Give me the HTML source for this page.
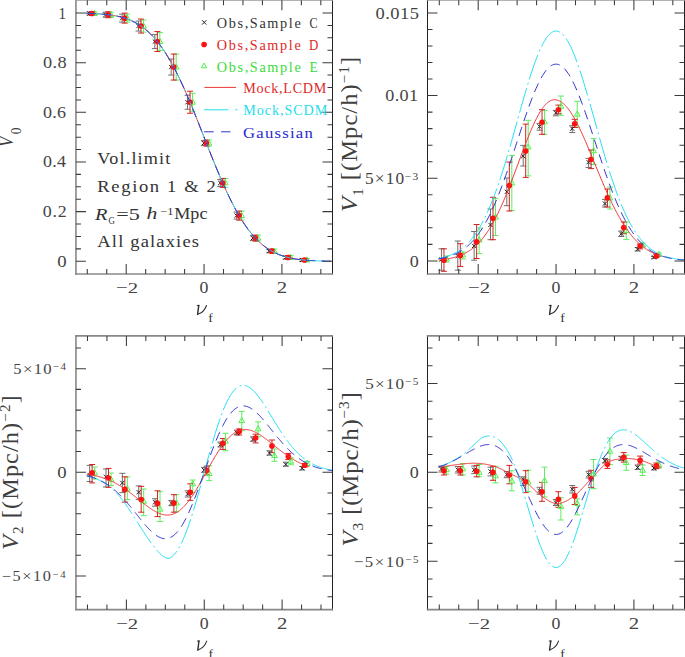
<!DOCTYPE html>
<html><head><meta charset="utf-8"><style>
html,body{margin:0;padding:0;background:#fff;}
svg{display:block;}
text{font-family:"Liberation Serif",serif;}
</style></head><body>
<svg width="685" height="657" viewBox="0 0 685 657">
<rect width="685" height="657" fill="#fff"/>
<path d="M89.45 11.99V14.99M86.45 11.99h6.0M86.45 14.99h6.0" stroke="#707070" stroke-width="1.0" fill="none"/>
<path d="M94.45 11.99V14.99M91.45 11.99h6.0M91.45 14.99h6.0" stroke="#60ec60" stroke-width="1.0" fill="none"/>
<path d="M91.95 11.49V15.49M88.95 11.49h6.0M88.95 15.49h6.0" stroke="#d82020" stroke-width="1.0" fill="none"/>
<path d="M105.80 12.22V17.22M102.80 12.22h6.0M102.80 17.22h6.0" stroke="#707070" stroke-width="1.0" fill="none"/>
<path d="M110.80 12.22V17.22M107.80 12.22h6.0M107.80 17.22h6.0" stroke="#60ec60" stroke-width="1.0" fill="none"/>
<path d="M108.30 11.72V17.72M105.30 11.72h6.0M105.30 17.72h6.0" stroke="#d82020" stroke-width="1.0" fill="none"/>
<path d="M122.14 14.13V22.13M119.14 14.13h6.0M119.14 22.13h6.0" stroke="#707070" stroke-width="1.0" fill="none"/>
<path d="M127.14 14.13V22.13M124.14 14.13h6.0M124.14 22.13h6.0" stroke="#60ec60" stroke-width="1.0" fill="none"/>
<path d="M124.64 13.13V23.13M121.64 13.13h6.0M121.64 23.13h6.0" stroke="#d82020" stroke-width="1.0" fill="none"/>
<path d="M138.49 21.06V31.06M135.49 21.06h6.0M135.49 31.06h6.0" stroke="#707070" stroke-width="1.0" fill="none"/>
<path d="M143.49 20.06V32.06M140.49 20.06h6.0M140.49 32.06h6.0" stroke="#60ec60" stroke-width="1.0" fill="none"/>
<path d="M140.99 19.06V33.06M137.99 19.06h6.0M137.99 33.06h6.0" stroke="#d82020" stroke-width="1.0" fill="none"/>
<path d="M154.84 34.57V48.57M151.84 34.57h6.0M151.84 48.57h6.0" stroke="#707070" stroke-width="1.0" fill="none"/>
<path d="M159.84 32.57V50.57M156.84 32.57h6.0M156.84 50.57h6.0" stroke="#60ec60" stroke-width="1.0" fill="none"/>
<path d="M157.34 31.57V51.57M154.34 31.57h6.0M154.34 51.57h6.0" stroke="#d82020" stroke-width="1.0" fill="none"/>
<path d="M171.19 59.05V75.05M168.19 59.05h6.0M168.19 75.05h6.0" stroke="#707070" stroke-width="1.0" fill="none"/>
<path d="M176.19 54.05V80.05M173.19 54.05h6.0M173.19 80.05h6.0" stroke="#60ec60" stroke-width="1.0" fill="none"/>
<path d="M173.69 54.05V80.05M170.69 54.05h6.0M170.69 80.05h6.0" stroke="#d82020" stroke-width="1.0" fill="none"/>
<path d="M187.54 95.24V109.24M184.54 95.24h6.0M184.54 109.24h6.0" stroke="#707070" stroke-width="1.0" fill="none"/>
<path d="M192.54 93.24V111.24M189.54 93.24h6.0M189.54 111.24h6.0" stroke="#60ec60" stroke-width="1.0" fill="none"/>
<path d="M190.04 91.24V113.24M187.04 91.24h6.0M187.04 113.24h6.0" stroke="#d82020" stroke-width="1.0" fill="none"/>
<path d="M203.89 140.59V145.59M200.89 140.59h6.0M200.89 145.59h6.0" stroke="#707070" stroke-width="1.0" fill="none"/>
<path d="M208.89 140.09V146.09M205.89 140.09h6.0M205.89 146.09h6.0" stroke="#60ec60" stroke-width="1.0" fill="none"/>
<path d="M206.39 140.09V146.09M203.39 140.09h6.0M203.39 146.09h6.0" stroke="#d82020" stroke-width="1.0" fill="none"/>
<path d="M220.23 179.43V186.43M217.23 179.43h6.0M217.23 186.43h6.0" stroke="#707070" stroke-width="1.0" fill="none"/>
<path d="M225.23 178.43V187.43M222.23 178.43h6.0M222.23 187.43h6.0" stroke="#60ec60" stroke-width="1.0" fill="none"/>
<path d="M222.73 178.43V187.43M219.73 178.43h6.0M219.73 187.43h6.0" stroke="#d82020" stroke-width="1.0" fill="none"/>
<path d="M236.58 212.10V219.10M233.58 212.10h6.0M233.58 219.10h6.0" stroke="#707070" stroke-width="1.0" fill="none"/>
<path d="M241.58 211.10V220.10M238.58 211.10h6.0M238.58 220.10h6.0" stroke="#60ec60" stroke-width="1.0" fill="none"/>
<path d="M239.08 211.10V220.10M236.08 211.10h6.0M236.08 220.10h6.0" stroke="#d82020" stroke-width="1.0" fill="none"/>
<path d="M252.93 235.60V240.60M249.93 235.60h6.0M249.93 240.60h6.0" stroke="#707070" stroke-width="1.0" fill="none"/>
<path d="M257.93 235.10V241.10M254.93 235.10h6.0M254.93 241.10h6.0" stroke="#60ec60" stroke-width="1.0" fill="none"/>
<path d="M255.43 235.10V241.10M252.43 235.10h6.0M252.43 241.10h6.0" stroke="#d82020" stroke-width="1.0" fill="none"/>
<path d="M269.28 249.64V252.64M266.28 249.64h6.0M266.28 252.64h6.0" stroke="#707070" stroke-width="1.0" fill="none"/>
<path d="M274.28 249.14V253.14M271.28 249.14h6.0M271.28 253.14h6.0" stroke="#60ec60" stroke-width="1.0" fill="none"/>
<path d="M271.78 249.14V253.14M268.78 249.14h6.0M268.78 253.14h6.0" stroke="#d82020" stroke-width="1.0" fill="none"/>
<path d="M285.63 255.98V258.98M282.63 255.98h6.0M282.63 258.98h6.0" stroke="#707070" stroke-width="1.0" fill="none"/>
<path d="M290.63 255.48V259.48M287.63 255.48h6.0M287.63 259.48h6.0" stroke="#60ec60" stroke-width="1.0" fill="none"/>
<path d="M288.13 255.48V259.48M285.13 255.48h6.0M285.13 259.48h6.0" stroke="#d82020" stroke-width="1.0" fill="none"/>
<path d="M301.97 258.87V261.27M298.97 258.87h6.0M298.97 261.27h6.0" stroke="#707070" stroke-width="1.0" fill="none"/>
<path d="M306.97 258.57V261.57M303.97 258.57h6.0M303.97 261.57h6.0" stroke="#60ec60" stroke-width="1.0" fill="none"/>
<path d="M304.47 258.57V261.57M301.47 258.57h6.0M301.47 261.57h6.0" stroke="#d82020" stroke-width="1.0" fill="none"/>
<path d="M94.45 10.29L97.33 15.41L91.57 15.41Z" stroke="#50f050" stroke-width="1" fill="none"/>
<path d="M87.35 11.39l4.2 4.2M87.35 15.59l4.2 -4.2" stroke="#222" stroke-width="1" fill="none"/>
<circle cx="91.95" cy="13.49" r="2.8" fill="#ff1010"/>
<path d="M110.80 11.52L113.68 16.64L107.92 16.64Z" stroke="#50f050" stroke-width="1" fill="none"/>
<path d="M103.70 12.62l4.2 4.2M103.70 16.82l4.2 -4.2" stroke="#222" stroke-width="1" fill="none"/>
<circle cx="108.30" cy="14.72" r="2.8" fill="#ff1010"/>
<path d="M127.14 14.93L130.02 20.05L124.26 20.05Z" stroke="#50f050" stroke-width="1" fill="none"/>
<path d="M120.04 16.03l4.2 4.2M120.04 20.23l4.2 -4.2" stroke="#222" stroke-width="1" fill="none"/>
<circle cx="124.64" cy="18.13" r="2.8" fill="#ff1010"/>
<path d="M143.49 22.86L146.37 27.98L140.61 27.98Z" stroke="#50f050" stroke-width="1" fill="none"/>
<path d="M136.39 23.96l4.2 4.2M136.39 28.16l4.2 -4.2" stroke="#222" stroke-width="1" fill="none"/>
<circle cx="140.99" cy="26.06" r="2.8" fill="#ff1010"/>
<path d="M159.84 38.37L162.72 43.49L156.96 43.49Z" stroke="#50f050" stroke-width="1" fill="none"/>
<path d="M152.74 39.47l4.2 4.2M152.74 43.67l4.2 -4.2" stroke="#222" stroke-width="1" fill="none"/>
<circle cx="157.34" cy="41.57" r="2.8" fill="#ff1010"/>
<path d="M176.19 63.85L179.07 68.97L173.31 68.97Z" stroke="#50f050" stroke-width="1" fill="none"/>
<path d="M169.09 64.95l4.2 4.2M169.09 69.15l4.2 -4.2" stroke="#222" stroke-width="1" fill="none"/>
<circle cx="173.69" cy="67.05" r="2.8" fill="#ff1010"/>
<path d="M192.54 99.04L195.42 104.16L189.66 104.16Z" stroke="#50f050" stroke-width="1" fill="none"/>
<path d="M185.44 100.14l4.2 4.2M185.44 104.34l4.2 -4.2" stroke="#222" stroke-width="1" fill="none"/>
<circle cx="190.04" cy="102.24" r="2.8" fill="#ff1010"/>
<path d="M208.89 139.89L211.77 145.01L206.01 145.01Z" stroke="#50f050" stroke-width="1" fill="none"/>
<path d="M201.79 140.99l4.2 4.2M201.79 145.19l4.2 -4.2" stroke="#222" stroke-width="1" fill="none"/>
<circle cx="206.39" cy="143.09" r="2.8" fill="#ff1010"/>
<path d="M225.23 179.73L228.11 184.85L222.35 184.85Z" stroke="#50f050" stroke-width="1" fill="none"/>
<path d="M218.13 180.83l4.2 4.2M218.13 185.03l4.2 -4.2" stroke="#222" stroke-width="1" fill="none"/>
<circle cx="222.73" cy="182.93" r="2.8" fill="#ff1010"/>
<path d="M241.58 212.40L244.46 217.52L238.70 217.52Z" stroke="#50f050" stroke-width="1" fill="none"/>
<path d="M234.48 213.50l4.2 4.2M234.48 217.70l4.2 -4.2" stroke="#222" stroke-width="1" fill="none"/>
<circle cx="239.08" cy="215.60" r="2.8" fill="#ff1010"/>
<path d="M257.93 234.90L260.81 240.02L255.05 240.02Z" stroke="#50f050" stroke-width="1" fill="none"/>
<path d="M250.83 236.00l4.2 4.2M250.83 240.20l4.2 -4.2" stroke="#222" stroke-width="1" fill="none"/>
<circle cx="255.43" cy="238.10" r="2.8" fill="#ff1010"/>
<path d="M274.28 247.94L277.16 253.06L271.40 253.06Z" stroke="#50f050" stroke-width="1" fill="none"/>
<path d="M267.18 249.04l4.2 4.2M267.18 253.24l4.2 -4.2" stroke="#222" stroke-width="1" fill="none"/>
<circle cx="271.78" cy="251.14" r="2.8" fill="#ff1010"/>
<path d="M290.63 254.28L293.51 259.40L287.75 259.40Z" stroke="#50f050" stroke-width="1" fill="none"/>
<path d="M283.53 255.38l4.2 4.2M283.53 259.58l4.2 -4.2" stroke="#222" stroke-width="1" fill="none"/>
<circle cx="288.13" cy="257.48" r="2.8" fill="#ff1010"/>
<path d="M306.97 256.87L309.85 261.99L304.09 261.99Z" stroke="#50f050" stroke-width="1" fill="none"/>
<path d="M299.87 257.97l4.2 4.2M299.87 262.17l4.2 -4.2" stroke="#222" stroke-width="1" fill="none"/>
<circle cx="304.47" cy="260.07" r="2.8" fill="#ff1010"/>
<polyline points="86.50,13.31 87.24,13.33 87.98,13.36 88.73,13.38 89.47,13.40 90.21,13.43 90.95,13.46 91.69,13.48 92.44,13.51 93.18,13.55 93.92,13.58 94.66,13.61 95.40,13.65 96.15,13.69 96.89,13.73 97.63,13.78 98.37,13.82 99.12,13.87 99.86,13.92 100.60,13.98 101.34,14.03 102.08,14.09 102.83,14.16 103.57,14.22 104.31,14.29 105.05,14.36 105.79,14.44 106.54,14.52 107.28,14.60 108.02,14.69 108.76,14.78 109.51,14.88 110.25,14.98 110.99,15.09 111.73,15.20 112.47,15.31 113.22,15.44 113.96,15.56 114.70,15.69 115.44,15.83 116.19,15.98 116.93,16.13 117.67,16.29 118.41,16.45 119.15,16.62 119.90,16.80 120.64,16.99 121.38,17.18 122.12,17.38 122.86,17.59 123.61,17.81 124.35,18.04 125.09,18.28 125.83,18.52 126.58,18.78 127.32,19.04 128.06,19.32 128.80,19.61 129.54,19.90 130.29,20.21 131.03,20.53 131.77,20.86 132.51,21.20 133.25,21.56 134.00,21.93 134.74,22.31 135.48,22.70 136.22,23.11 136.97,23.53 137.71,23.96 138.45,24.41 139.19,24.88 139.93,25.36 140.68,25.85 141.42,26.36 142.16,26.88 142.90,27.43 143.64,27.98 144.39,28.56 145.13,29.15 145.87,29.76 146.61,30.39 147.36,31.03 148.10,31.70 148.84,32.38 149.58,33.08 150.32,33.80 151.07,34.53 151.81,35.29 152.55,36.07 153.29,36.87 154.03,37.68 154.78,38.52 155.52,39.38 156.26,40.26 157.00,41.16 157.75,42.08 158.49,43.02 159.23,43.98 159.97,44.96 160.71,45.97 161.46,47.00 162.20,48.05 162.94,49.12 163.68,50.21 164.43,51.32 165.17,52.46 165.91,53.62 166.65,54.80 167.39,56.00 168.14,57.22 168.88,58.46 169.62,59.73 170.36,61.02 171.10,62.33 171.85,63.66 172.59,65.01 173.33,66.38 174.07,67.78 174.82,69.19 175.56,70.63 176.30,72.08 177.04,73.56 177.78,75.05 178.53,76.56 179.27,78.10 180.01,79.65 180.75,81.22 181.49,82.81 182.24,84.41 182.98,86.03 183.72,87.67 184.46,89.33 185.21,91.00 185.95,92.69 186.69,94.39 187.43,96.11 188.17,97.84 188.92,99.59 189.66,101.34 190.40,103.11 191.14,104.89 191.88,106.69 192.63,108.49 193.37,110.31 194.11,112.13 194.85,113.96 195.60,115.80 196.34,117.65 197.08,119.51 197.82,121.37 198.56,123.24 199.31,125.11 200.05,126.98 200.79,128.87 201.53,130.75 202.28,132.63 203.02,134.52 203.76,136.41 204.50,138.30 205.24,140.19 205.99,142.07 206.73,143.96 207.47,145.84 208.21,147.72 208.95,149.60 209.70,151.47 210.44,153.34 211.18,155.20 211.92,157.05 212.67,158.90 213.41,160.74 214.15,162.57 214.89,164.39 215.63,166.20 216.38,168.00 217.12,169.79 217.86,171.57 218.60,173.34 219.34,175.09 220.09,176.84 220.83,178.56 221.57,180.28 222.31,181.98 223.06,183.66 223.80,185.33 224.54,186.98 225.28,188.62 226.02,190.24 226.77,191.84 227.51,193.42 228.25,194.99 228.99,196.54 229.73,198.07 230.48,199.58 231.22,201.07 231.96,202.54 232.70,203.99 233.45,205.42 234.19,206.83 234.93,208.22 235.67,209.58 236.41,210.93 237.16,212.26 237.90,213.56 238.64,214.85 239.38,216.11 240.12,217.35 240.87,218.57 241.61,219.76 242.35,220.94 243.09,222.09 243.84,223.22 244.58,224.33 245.32,225.42 246.06,226.48 246.80,227.53 247.55,228.55 248.29,229.55 249.03,230.53 249.77,231.49 250.52,232.42 251.26,233.34 252.00,234.24 252.74,235.11 253.48,235.96 254.23,236.80 254.97,237.61 255.71,238.40 256.45,239.17 257.19,239.93 257.94,240.66 258.68,241.38 259.42,242.07 260.16,242.75 260.91,243.41 261.65,244.05 262.39,244.67 263.13,245.28 263.87,245.87 264.62,246.44 265.36,246.99 266.10,247.53 266.84,248.05 267.58,248.56 268.33,249.05 269.07,249.53 269.81,249.99 270.55,250.43 271.30,250.86 272.04,251.28 272.78,251.69 273.52,252.08 274.26,252.45 275.01,252.82 275.75,253.17 276.49,253.51 277.23,253.84 277.97,254.16 278.72,254.46 279.46,254.76 280.20,255.04 280.94,255.31 281.69,255.58 282.43,255.83 283.17,256.07 283.91,256.31 284.65,256.54 285.40,256.75 286.14,256.96 286.88,257.16 287.62,257.35 288.37,257.54 289.11,257.72 289.85,257.89 290.59,258.05 291.33,258.20 292.08,258.35 292.82,258.50 293.56,258.63 294.30,258.77 295.04,258.89 295.79,259.01 296.53,259.13 297.27,259.24 298.01,259.34 298.76,259.44 299.50,259.54 300.24,259.63 300.98,259.72 301.72,259.80 302.47,259.88 303.21,259.95 303.95,260.02 304.69,260.09 305.43,260.16 306.18,260.22 306.92,260.28 307.66,260.34 308.40,260.39 309.15,260.44" fill="none" stroke="#f03535" stroke-width="1.0"/>
<polyline points="86.50,13.31 87.32,13.34 88.14,13.36 88.96,13.39 89.78,13.41 90.60,13.44 91.42,13.47 92.24,13.51 93.06,13.54 93.88,13.58 94.70,13.62 95.52,13.66 96.34,13.70 97.16,13.75 97.98,13.80 98.80,13.85 99.62,13.91 100.44,13.96 101.26,14.03 102.08,14.09 102.90,14.16 103.72,14.24 104.54,14.31 105.36,14.39 106.18,14.48 107.00,14.57 107.82,14.67 108.64,14.77 109.46,14.87 110.28,14.99 111.10,15.10 111.92,15.23 112.74,15.36 113.56,15.49 114.38,15.64 115.20,15.79 116.02,15.95 116.84,16.11 117.66,16.28 118.48,16.47 119.30,16.66 120.12,16.86 120.94,17.07 121.76,17.28 122.58,17.51 123.40,17.75 124.22,18.00 125.04,18.26 125.86,18.53 126.68,18.82 127.50,19.11 128.32,19.42 129.14,19.74 129.96,20.07 130.78,20.42 131.60,20.78 132.42,21.16 133.24,21.55 134.06,21.96 134.88,22.38 135.70,22.82 136.52,23.27 137.34,23.75 138.16,24.23 138.98,24.74 139.80,25.27 140.62,25.81 141.44,26.37 142.26,26.96 143.08,27.56 143.90,28.18 144.72,28.82 145.54,29.49 146.36,30.17 147.18,30.88 148.00,31.61 148.82,32.36 149.64,33.13 150.46,33.93 151.28,34.75 152.10,35.59 152.92,36.46 153.74,37.35 154.56,38.27 155.38,39.21 156.20,40.18 157.02,41.18 157.84,42.19 158.66,43.24 159.48,44.31 160.30,45.40 161.12,46.53 161.94,47.68 162.76,48.85 163.58,50.05 164.40,51.28 165.22,52.54 166.04,53.82 166.86,55.13 167.68,56.46 168.50,57.83 169.32,59.21 170.14,60.63 170.96,62.07 171.78,63.54 172.60,65.03 173.42,66.55 174.24,68.09 175.06,69.66 175.88,71.25 176.70,72.87 177.52,74.52 178.34,76.18 179.16,77.87 179.98,79.58 180.80,81.32 181.62,83.07 182.44,84.85 183.26,86.65 184.08,88.47 184.90,90.31 185.72,92.17 186.54,94.05 187.36,95.94 188.18,97.85 189.00,99.78 189.82,101.73 190.64,103.68 191.46,105.66 192.28,107.65 193.10,109.65 193.92,111.66 194.74,113.68 195.56,115.71 196.38,117.75 197.20,119.81 198.02,121.86 198.84,123.93 199.66,126.00 200.48,128.08 201.30,130.16 202.12,132.24 202.94,134.32 203.76,136.41 204.58,138.50 205.40,140.58 206.22,142.67 207.04,144.75 207.86,146.83 208.68,148.90 209.50,150.97 210.32,153.04 211.14,155.09 211.96,157.14 212.78,159.18 213.60,161.21 214.42,163.23 215.24,165.24 216.06,167.23 216.88,169.22 217.70,171.19 218.52,173.14 219.34,175.08 220.16,177.01 220.98,178.91 221.80,180.80 222.62,182.67 223.44,184.53 224.26,186.36 225.08,188.17 225.90,189.97 226.72,191.74 227.54,193.49 228.36,195.22 229.18,196.92 230.00,198.61 230.82,200.27 231.64,201.90 232.46,203.51 233.28,205.10 234.10,206.66 234.92,208.20 235.74,209.71 236.56,211.19 237.38,212.65 238.20,214.09 239.02,215.49 239.84,216.87 240.66,218.23 241.48,219.55 242.30,220.86 243.12,222.13 243.94,223.38 244.76,224.60 245.58,225.79 246.40,226.96 247.22,228.10 248.04,229.22 248.86,230.31 249.68,231.37 250.50,232.41 251.32,233.42 252.14,234.40 252.96,235.36 253.78,236.30 254.60,237.21 255.42,238.09 256.24,238.95 257.06,239.79 257.88,240.61 258.70,241.40 259.52,242.16 260.34,242.91 261.16,243.63 261.98,244.33 262.80,245.01 263.62,245.67 264.44,246.30 265.26,246.92 266.08,247.52 266.90,248.09 267.72,248.65 268.54,249.19 269.36,249.71 270.18,250.21 271.00,250.69 271.82,251.16 272.64,251.61 273.46,252.04 274.28,252.46 275.10,252.86 275.92,253.25 276.74,253.62 277.56,253.98 278.38,254.32 279.20,254.65 280.02,254.97 280.84,255.28 281.66,255.57 282.48,255.85 283.30,256.12 284.12,256.37 284.94,256.62 285.76,256.86 286.58,257.08 287.40,257.30 288.22,257.50 289.04,257.70 289.86,257.89 290.68,258.07 291.50,258.24 292.32,258.40 293.14,258.56 293.96,258.71 294.78,258.85 295.60,258.98 296.42,259.11 297.24,259.23 298.06,259.35 298.88,259.46 299.70,259.56 300.52,259.66 301.34,259.76 302.16,259.85 302.98,259.93 303.80,260.01 304.62,260.09 305.44,260.16 306.26,260.23 307.08,260.29 307.90,260.35 308.72,260.41 309.54,260.47 310.36,260.52 311.18,260.57 312.00,260.61 312.82,260.65 313.64,260.70 314.46,260.73 315.28,260.77 316.10,260.80 316.92,260.84 317.74,260.87 318.56,260.89 319.38,260.92 320.20,260.95 321.02,260.97 321.84,260.99 322.66,261.01 323.48,261.03 324.30,261.05 325.12,261.07 325.94,261.08 326.76,261.10 327.58,261.11 328.40,261.13 329.22,261.14 330.04,261.15 330.86,261.16 331.68,261.17 332.50,261.18" fill="none" stroke="#20e0f0" stroke-width="1.0" stroke-dasharray="26 3.5 2 3.5"/>
<polyline points="86.50,13.31 87.32,13.34 88.14,13.36 88.96,13.39 89.78,13.41 90.60,13.44 91.42,13.47 92.24,13.51 93.06,13.54 93.88,13.58 94.70,13.62 95.52,13.66 96.34,13.70 97.16,13.75 97.98,13.80 98.80,13.85 99.62,13.91 100.44,13.96 101.26,14.03 102.08,14.09 102.90,14.16 103.72,14.24 104.54,14.31 105.36,14.39 106.18,14.48 107.00,14.57 107.82,14.67 108.64,14.77 109.46,14.87 110.28,14.99 111.10,15.10 111.92,15.23 112.74,15.36 113.56,15.49 114.38,15.64 115.20,15.79 116.02,15.95 116.84,16.11 117.66,16.28 118.48,16.47 119.30,16.66 120.12,16.86 120.94,17.07 121.76,17.28 122.58,17.51 123.40,17.75 124.22,18.00 125.04,18.26 125.86,18.53 126.68,18.82 127.50,19.11 128.32,19.42 129.14,19.74 129.96,20.07 130.78,20.42 131.60,20.78 132.42,21.16 133.24,21.55 134.06,21.96 134.88,22.38 135.70,22.82 136.52,23.27 137.34,23.75 138.16,24.23 138.98,24.74 139.80,25.27 140.62,25.81 141.44,26.37 142.26,26.96 143.08,27.56 143.90,28.18 144.72,28.82 145.54,29.49 146.36,30.17 147.18,30.88 148.00,31.61 148.82,32.36 149.64,33.13 150.46,33.93 151.28,34.75 152.10,35.59 152.92,36.46 153.74,37.35 154.56,38.27 155.38,39.21 156.20,40.18 157.02,41.18 157.84,42.19 158.66,43.24 159.48,44.31 160.30,45.40 161.12,46.53 161.94,47.68 162.76,48.85 163.58,50.05 164.40,51.28 165.22,52.54 166.04,53.82 166.86,55.13 167.68,56.46 168.50,57.83 169.32,59.21 170.14,60.63 170.96,62.07 171.78,63.54 172.60,65.03 173.42,66.55 174.24,68.09 175.06,69.66 175.88,71.25 176.70,72.87 177.52,74.52 178.34,76.18 179.16,77.87 179.98,79.58 180.80,81.32 181.62,83.07 182.44,84.85 183.26,86.65 184.08,88.47 184.90,90.31 185.72,92.17 186.54,94.05 187.36,95.94 188.18,97.85 189.00,99.78 189.82,101.73 190.64,103.68 191.46,105.66 192.28,107.65 193.10,109.65 193.92,111.66 194.74,113.68 195.56,115.71 196.38,117.75 197.20,119.81 198.02,121.86 198.84,123.93 199.66,126.00 200.48,128.08 201.30,130.16 202.12,132.24 202.94,134.32 203.76,136.41 204.58,138.50 205.40,140.58 206.22,142.67 207.04,144.75 207.86,146.83 208.68,148.90 209.50,150.97 210.32,153.04 211.14,155.09 211.96,157.14 212.78,159.18 213.60,161.21 214.42,163.23 215.24,165.24 216.06,167.23 216.88,169.22 217.70,171.19 218.52,173.14 219.34,175.08 220.16,177.01 220.98,178.91 221.80,180.80 222.62,182.67 223.44,184.53 224.26,186.36 225.08,188.17 225.90,189.97 226.72,191.74 227.54,193.49 228.36,195.22 229.18,196.92 230.00,198.61 230.82,200.27 231.64,201.90 232.46,203.51 233.28,205.10 234.10,206.66 234.92,208.20 235.74,209.71 236.56,211.19 237.38,212.65 238.20,214.09 239.02,215.49 239.84,216.87 240.66,218.23 241.48,219.55 242.30,220.86 243.12,222.13 243.94,223.38 244.76,224.60 245.58,225.79 246.40,226.96 247.22,228.10 248.04,229.22 248.86,230.31 249.68,231.37 250.50,232.41 251.32,233.42 252.14,234.40 252.96,235.36 253.78,236.30 254.60,237.21 255.42,238.09 256.24,238.95 257.06,239.79 257.88,240.61 258.70,241.40 259.52,242.16 260.34,242.91 261.16,243.63 261.98,244.33 262.80,245.01 263.62,245.67 264.44,246.30 265.26,246.92 266.08,247.52 266.90,248.09 267.72,248.65 268.54,249.19 269.36,249.71 270.18,250.21 271.00,250.69 271.82,251.16 272.64,251.61 273.46,252.04 274.28,252.46 275.10,252.86 275.92,253.25 276.74,253.62 277.56,253.98 278.38,254.32 279.20,254.65 280.02,254.97 280.84,255.28 281.66,255.57 282.48,255.85 283.30,256.12 284.12,256.37 284.94,256.62 285.76,256.86 286.58,257.08 287.40,257.30 288.22,257.50 289.04,257.70 289.86,257.89 290.68,258.07 291.50,258.24 292.32,258.40 293.14,258.56 293.96,258.71 294.78,258.85 295.60,258.98 296.42,259.11 297.24,259.23 298.06,259.35 298.88,259.46 299.70,259.56 300.52,259.66 301.34,259.76 302.16,259.85 302.98,259.93 303.80,260.01 304.62,260.09 305.44,260.16 306.26,260.23 307.08,260.29 307.90,260.35 308.72,260.41 309.54,260.47 310.36,260.52 311.18,260.57 312.00,260.61 312.82,260.65 313.64,260.70 314.46,260.73 315.28,260.77 316.10,260.80 316.92,260.84 317.74,260.87 318.56,260.89 319.38,260.92 320.20,260.95 321.02,260.97 321.84,260.99 322.66,261.01 323.48,261.03 324.30,261.05 325.12,261.07 325.94,261.08 326.76,261.10 327.58,261.11 328.40,261.13 329.22,261.14 330.04,261.15 330.86,261.16 331.68,261.17 332.50,261.18" fill="none" stroke="#3030d0" stroke-width="1.0" stroke-dasharray="9.5 6"/>
<path d="M75.95 -0.55V274.70" stroke="#888" stroke-width="1.6" fill="none"/>
<path d="M332.50 -0.55V274.70" stroke="#222" stroke-width="1.0" fill="none"/>
<path d="M75.20 0.20H333.00" stroke="#999" stroke-width="1.2" fill="none"/>
<path d="M75.20 273.95H333.00" stroke="#888" stroke-width="1.6" fill="none"/>
<path d="M87.28 273.95v-5M87.28 0.20v5M106.74 273.95v-5M106.74 0.20v5M126.20 273.95v-10M126.20 0.20v10M145.66 273.95v-5M145.66 0.20v5M165.13 273.95v-5M165.13 0.20v5M184.59 273.95v-5M184.59 0.20v5M204.05 273.95v-10M204.05 0.20v10M223.51 273.95v-5M223.51 0.20v5M242.97 273.95v-5M242.97 0.20v5M262.44 273.95v-5M262.44 0.20v5M281.90 273.95v-10M281.90 0.20v10M301.36 273.95v-5M301.36 0.20v5M320.82 273.95v-5M320.82 0.20v5M75.95 261.30h10M332.50 261.30h-10M75.95 248.89h5M332.50 248.89h-5M75.95 236.47h5M332.50 236.47h-5M75.95 224.06h5M332.50 224.06h-5M75.95 211.64h10M332.50 211.64h-10M75.95 199.23h5M332.50 199.23h-5M75.95 186.81h5M332.50 186.81h-5M75.95 174.39h5M332.50 174.39h-5M75.95 161.98h10M332.50 161.98h-10M75.95 149.56h5M332.50 149.56h-5M75.95 137.15h5M332.50 137.15h-5M75.95 124.73h5M332.50 124.73h-5M75.95 112.32h10M332.50 112.32h-10M75.95 99.91h5M332.50 99.91h-5M75.95 87.49h5M332.50 87.49h-5M75.95 75.07h5M332.50 75.07h-5M75.95 62.66h10M332.50 62.66h-10M75.95 50.24h5M332.50 50.24h-5M75.95 37.83h5M332.50 37.83h-5M75.95 25.41h5M332.50 25.41h-5M75.95 13.00h10M332.50 13.00h-10" fill="none" stroke="#3a3a3a" stroke-width="1.05"/>
<path d="M441.45 248.80V270.20M438.45 248.80h6.0M438.45 270.20h6.0" stroke="#707070" stroke-width="1.0" fill="none"/>
<path d="M446.45 256.00V262.00M443.45 256.00h6.0M443.45 262.00h6.0" stroke="#60ec60" stroke-width="1.0" fill="none"/>
<path d="M443.95 248.80V271.30M440.95 248.80h6.0M440.95 271.30h6.0" stroke="#d82020" stroke-width="1.0" fill="none"/>
<path d="M457.80 241.00V270.20M454.80 241.00h6.0M454.80 270.20h6.0" stroke="#707070" stroke-width="1.0" fill="none"/>
<path d="M462.80 252.00V259.00M459.80 252.00h6.0M459.80 259.00h6.0" stroke="#60ec60" stroke-width="1.0" fill="none"/>
<path d="M460.30 243.70V266.40M457.30 243.70h6.0M457.30 266.40h6.0" stroke="#d82020" stroke-width="1.0" fill="none"/>
<path d="M474.14 231.50V260.20M471.14 231.50h6.0M471.14 260.20h6.0" stroke="#707070" stroke-width="1.0" fill="none"/>
<path d="M479.14 228.00V253.60M476.14 228.00h6.0M476.14 253.60h6.0" stroke="#60ec60" stroke-width="1.0" fill="none"/>
<path d="M476.64 224.50V258.50M473.64 224.50h6.0M473.64 258.50h6.0" stroke="#d82020" stroke-width="1.0" fill="none"/>
<path d="M490.49 209.00V239.70M487.49 209.00h6.0M487.49 239.70h6.0" stroke="#707070" stroke-width="1.0" fill="none"/>
<path d="M495.49 198.40V235.50M492.49 198.40h6.0M492.49 235.50h6.0" stroke="#60ec60" stroke-width="1.0" fill="none"/>
<path d="M492.99 197.30V239.70M489.99 197.30h6.0M489.99 239.70h6.0" stroke="#d82020" stroke-width="1.0" fill="none"/>
<path d="M506.84 178.00V205.70M503.84 178.00h6.0M503.84 205.70h6.0" stroke="#707070" stroke-width="1.0" fill="none"/>
<path d="M511.84 155.40V210.60M508.84 155.40h6.0M508.84 210.60h6.0" stroke="#60ec60" stroke-width="1.0" fill="none"/>
<path d="M509.34 162.00V211.00M506.34 162.00h6.0M506.34 211.00h6.0" stroke="#d82020" stroke-width="1.0" fill="none"/>
<path d="M523.19 145.40V166.00M520.19 145.40h6.0M520.19 166.00h6.0" stroke="#707070" stroke-width="1.0" fill="none"/>
<path d="M528.19 120.30V175.90M525.19 120.30h6.0M525.19 175.90h6.0" stroke="#60ec60" stroke-width="1.0" fill="none"/>
<path d="M525.69 124.10V177.40M522.69 124.10h6.0M522.69 177.40h6.0" stroke="#d82020" stroke-width="1.0" fill="none"/>
<path d="M539.54 123.40V130.20M536.54 123.40h6.0M536.54 130.20h6.0" stroke="#707070" stroke-width="1.0" fill="none"/>
<path d="M544.54 110.40V134.30M541.54 110.40h6.0M541.54 134.30h6.0" stroke="#60ec60" stroke-width="1.0" fill="none"/>
<path d="M542.04 109.70V134.30M539.04 109.70h6.0M539.04 134.30h6.0" stroke="#d82020" stroke-width="1.0" fill="none"/>
<path d="M555.89 110.40V115.80M552.89 110.40h6.0M552.89 115.80h6.0" stroke="#707070" stroke-width="1.0" fill="none"/>
<path d="M560.89 96.00V115.30M557.89 96.00h6.0M557.89 115.30h6.0" stroke="#60ec60" stroke-width="1.0" fill="none"/>
<path d="M558.39 105.10V113.80M555.39 105.10h6.0M555.39 113.80h6.0" stroke="#d82020" stroke-width="1.0" fill="none"/>
<path d="M572.23 125.70V132.50M569.23 125.70h6.0M569.23 132.50h6.0" stroke="#707070" stroke-width="1.0" fill="none"/>
<path d="M577.23 101.30V127.20M574.23 101.30h6.0M574.23 127.20h6.0" stroke="#60ec60" stroke-width="1.0" fill="none"/>
<path d="M574.73 119.30V127.50M571.73 119.30h6.0M571.73 127.50h6.0" stroke="#d82020" stroke-width="1.0" fill="none"/>
<path d="M588.58 158.40V167.50M585.58 158.40h6.0M585.58 167.50h6.0" stroke="#707070" stroke-width="1.0" fill="none"/>
<path d="M593.58 138.60V164.50M590.58 138.60h6.0M590.58 164.50h6.0" stroke="#60ec60" stroke-width="1.0" fill="none"/>
<path d="M591.08 150.00V168.60M588.08 150.00h6.0M588.08 168.60h6.0" stroke="#d82020" stroke-width="1.0" fill="none"/>
<path d="M604.93 199.40V207.00M601.93 199.40h6.0M601.93 207.00h6.0" stroke="#707070" stroke-width="1.0" fill="none"/>
<path d="M609.93 187.00V209.00M606.93 187.00h6.0M606.93 209.00h6.0" stroke="#60ec60" stroke-width="1.0" fill="none"/>
<path d="M607.43 189.00V207.00M604.43 189.00h6.0M604.43 207.00h6.0" stroke="#d82020" stroke-width="1.0" fill="none"/>
<path d="M621.28 231.00V236.50M618.28 231.00h6.0M618.28 236.50h6.0" stroke="#707070" stroke-width="1.0" fill="none"/>
<path d="M626.28 222.00V239.40M623.28 222.00h6.0M623.28 239.40h6.0" stroke="#60ec60" stroke-width="1.0" fill="none"/>
<path d="M623.78 221.90V233.70M620.78 221.90h6.0M620.78 233.70h6.0" stroke="#d82020" stroke-width="1.0" fill="none"/>
<path d="M637.63 247.50V251.00M634.63 247.50h6.0M634.63 251.00h6.0" stroke="#707070" stroke-width="1.0" fill="none"/>
<path d="M642.63 243.00V247.00M639.63 243.00h6.0M639.63 247.00h6.0" stroke="#60ec60" stroke-width="1.0" fill="none"/>
<path d="M640.13 244.00V248.90M637.13 244.00h6.0M637.13 248.90h6.0" stroke="#d82020" stroke-width="1.0" fill="none"/>
<path d="M653.97 256.50V258.30M650.97 256.50h6.0M650.97 258.30h6.0" stroke="#707070" stroke-width="1.0" fill="none"/>
<path d="M658.97 253.00V256.00M655.97 253.00h6.0M655.97 256.00h6.0" stroke="#60ec60" stroke-width="1.0" fill="none"/>
<path d="M656.47 254.50V257.30M653.47 254.50h6.0M653.47 257.30h6.0" stroke="#d82020" stroke-width="1.0" fill="none"/>
<path d="M446.45 255.80L449.33 260.92L443.57 260.92Z" stroke="#50f050" stroke-width="1" fill="none"/>
<path d="M439.35 257.40l4.2 4.2M439.35 261.60l4.2 -4.2" stroke="#222" stroke-width="1" fill="none"/>
<circle cx="443.95" cy="260.20" r="2.8" fill="#ff1010"/>
<path d="M462.80 251.80L465.68 256.92L459.92 256.92Z" stroke="#50f050" stroke-width="1" fill="none"/>
<path d="M455.70 253.90l4.2 4.2M455.70 258.10l4.2 -4.2" stroke="#222" stroke-width="1" fill="none"/>
<circle cx="460.30" cy="255.40" r="2.8" fill="#ff1010"/>
<path d="M479.14 236.80L482.02 241.92L476.26 241.92Z" stroke="#50f050" stroke-width="1" fill="none"/>
<path d="M472.04 243.80l4.2 4.2M472.04 248.00l4.2 -4.2" stroke="#222" stroke-width="1" fill="none"/>
<circle cx="476.64" cy="241.90" r="2.8" fill="#ff1010"/>
<path d="M495.49 214.00L498.37 219.12L492.61 219.12Z" stroke="#50f050" stroke-width="1" fill="none"/>
<path d="M488.39 222.80l4.2 4.2M488.39 227.00l4.2 -4.2" stroke="#222" stroke-width="1" fill="none"/>
<circle cx="492.99" cy="218.30" r="2.8" fill="#ff1010"/>
<path d="M511.84 179.80L514.72 184.92L508.96 184.92Z" stroke="#50f050" stroke-width="1" fill="none"/>
<path d="M504.74 189.70l4.2 4.2M504.74 193.90l4.2 -4.2" stroke="#222" stroke-width="1" fill="none"/>
<circle cx="509.34" cy="185.60" r="2.8" fill="#ff1010"/>
<path d="M528.19 143.80L531.07 148.92L525.31 148.92Z" stroke="#50f050" stroke-width="1" fill="none"/>
<path d="M521.09 154.00l4.2 4.2M521.09 158.20l4.2 -4.2" stroke="#222" stroke-width="1" fill="none"/>
<circle cx="525.69" cy="151.10" r="2.8" fill="#ff1010"/>
<path d="M544.54 118.70L547.42 123.82L541.66 123.82Z" stroke="#50f050" stroke-width="1" fill="none"/>
<path d="M537.44 124.30l4.2 4.2M537.44 128.50l4.2 -4.2" stroke="#222" stroke-width="1" fill="none"/>
<circle cx="542.04" cy="122.20" r="2.8" fill="#ff1010"/>
<path d="M560.89 103.20L563.77 108.32L558.01 108.32Z" stroke="#50f050" stroke-width="1" fill="none"/>
<path d="M553.79 110.60l4.2 4.2M553.79 114.80l4.2 -4.2" stroke="#222" stroke-width="1" fill="none"/>
<circle cx="558.39" cy="109.70" r="2.8" fill="#ff1010"/>
<path d="M577.23 111.00L580.11 116.12L574.35 116.12Z" stroke="#50f050" stroke-width="1" fill="none"/>
<path d="M570.13 126.60l4.2 4.2M570.13 130.80l4.2 -4.2" stroke="#222" stroke-width="1" fill="none"/>
<circle cx="574.73" cy="123.70" r="2.8" fill="#ff1010"/>
<path d="M593.58 147.60L596.46 152.72L590.70 152.72Z" stroke="#50f050" stroke-width="1" fill="none"/>
<path d="M586.48 160.10l4.2 4.2M586.48 164.30l4.2 -4.2" stroke="#222" stroke-width="1" fill="none"/>
<circle cx="591.08" cy="159.50" r="2.8" fill="#ff1010"/>
<path d="M609.93 194.80L612.81 199.92L607.05 199.92Z" stroke="#50f050" stroke-width="1" fill="none"/>
<path d="M602.83 201.50l4.2 4.2M602.83 205.70l4.2 -4.2" stroke="#222" stroke-width="1" fill="none"/>
<circle cx="607.43" cy="197.90" r="2.8" fill="#ff1010"/>
<path d="M626.28 227.50L629.16 232.62L623.40 232.62Z" stroke="#50f050" stroke-width="1" fill="none"/>
<path d="M619.18 231.60l4.2 4.2M619.18 235.80l4.2 -4.2" stroke="#222" stroke-width="1" fill="none"/>
<circle cx="623.78" cy="227.60" r="2.8" fill="#ff1010"/>
<path d="M642.63 241.80L645.51 246.92L639.75 246.92Z" stroke="#50f050" stroke-width="1" fill="none"/>
<path d="M635.53 247.10l4.2 4.2M635.53 251.30l4.2 -4.2" stroke="#222" stroke-width="1" fill="none"/>
<circle cx="640.13" cy="246.00" r="2.8" fill="#ff1010"/>
<path d="M658.97 251.30L661.85 256.42L656.09 256.42Z" stroke="#50f050" stroke-width="1" fill="none"/>
<path d="M651.87 255.30l4.2 4.2M651.87 259.50l4.2 -4.2" stroke="#222" stroke-width="1" fill="none"/>
<circle cx="656.47" cy="255.90" r="2.8" fill="#ff1010"/>
<polyline points="438.50,259.95 439.24,259.89 439.98,259.82 440.73,259.75 441.47,259.67 442.21,259.59 442.95,259.50 443.69,259.41 444.44,259.31 445.18,259.21 445.92,259.11 446.66,258.99 447.40,258.87 448.15,258.75 448.89,258.61 449.63,258.47 450.37,258.32 451.12,258.17 451.86,258.00 452.60,257.83 453.34,257.65 454.08,257.46 454.83,257.26 455.57,257.05 456.31,256.83 457.05,256.59 457.79,256.35 458.54,256.10 459.28,255.83 460.02,255.55 460.76,255.26 461.51,254.95 462.25,254.63 462.99,254.29 463.73,253.94 464.47,253.58 465.22,253.20 465.96,252.80 466.70,252.39 467.44,251.95 468.19,251.50 468.93,251.03 469.67,250.55 470.41,250.04 471.15,249.51 471.90,248.96 472.64,248.40 473.38,247.81 474.12,247.19 474.86,246.56 475.61,245.90 476.35,245.22 477.09,244.51 477.83,243.78 478.58,243.02 479.32,242.24 480.06,241.43 480.80,240.60 481.54,239.74 482.29,238.85 483.03,237.94 483.77,236.99 484.51,236.02 485.25,235.02 486.00,233.99 486.74,232.93 487.48,231.85 488.22,230.73 488.97,229.58 489.71,228.40 490.45,227.20 491.19,225.96 491.93,224.69 492.68,223.39 493.42,222.06 494.16,220.71 494.90,219.32 495.64,217.90 496.39,216.45 497.13,214.97 497.87,213.47 498.61,211.93 499.36,210.37 500.10,208.78 500.84,207.16 501.58,205.51 502.32,203.84 503.07,202.14 503.81,200.41 504.55,198.66 505.29,196.89 506.03,195.10 506.78,193.28 507.52,191.44 508.26,189.59 509.00,187.71 509.75,185.82 510.49,183.90 511.23,181.98 511.97,180.04 512.71,178.08 513.46,176.12 514.20,174.14 514.94,172.16 515.68,170.17 516.43,168.17 517.17,166.17 517.91,164.17 518.65,162.16 519.39,160.16 520.14,158.16 520.88,156.16 521.62,154.17 522.36,152.19 523.10,150.21 523.85,148.25 524.59,146.30 525.33,144.37 526.07,142.46 526.82,140.56 527.56,138.68 528.30,136.83 529.04,135.00 529.78,133.20 530.53,131.43 531.27,129.69 532.01,127.98 532.75,126.30 533.49,124.66 534.24,123.06 534.98,121.50 535.72,119.98 536.46,118.51 537.21,117.08 537.95,115.69 538.69,114.35 539.43,113.07 540.17,111.83 540.92,110.65 541.66,109.52 542.40,108.45 543.14,107.44 543.88,106.48 544.63,105.58 545.37,104.74 546.11,103.97 546.85,103.25 547.60,102.60 548.34,102.02 549.08,101.50 549.82,101.04 550.56,100.65 551.31,100.33 552.05,100.07 552.79,99.88 553.53,99.76 554.28,99.71 555.02,99.72 555.76,99.78 556.50,99.91 557.24,100.08 557.99,100.31 558.73,100.60 559.47,100.94 560.21,101.34 560.95,101.78 561.70,102.28 562.44,102.84 563.18,103.44 563.92,104.10 564.67,104.81 565.41,105.57 566.15,106.37 566.89,107.23 567.63,108.13 568.38,109.08 569.12,110.08 569.86,111.12 570.60,112.20 571.34,113.33 572.09,114.50 572.83,115.71 573.57,116.96 574.31,118.25 575.06,119.57 575.80,120.93 576.54,122.32 577.28,123.75 578.02,125.21 578.77,126.70 579.51,128.22 580.25,129.76 580.99,131.33 581.73,132.93 582.48,134.55 583.22,136.20 583.96,137.86 584.70,139.54 585.45,141.25 586.19,142.96 586.93,144.70 587.67,146.44 588.41,148.20 589.16,149.97 589.90,151.75 590.64,153.54 591.38,155.34 592.12,157.14 592.87,158.94 593.61,160.75 594.35,162.56 595.09,164.37 595.84,166.18 596.58,167.99 597.32,169.79 598.06,171.59 598.80,173.38 599.55,175.17 600.29,176.95 601.03,178.72 601.77,180.48 602.52,182.23 603.26,183.97 604.00,185.69 604.74,187.41 605.48,189.10 606.23,190.79 606.97,192.45 607.71,194.10 608.45,195.74 609.19,197.35 609.94,198.95 610.68,200.52 611.42,202.08 612.16,203.61 612.91,205.13 613.65,206.62 614.39,208.09 615.13,209.54 615.87,210.97 616.62,212.37 617.36,213.75 618.10,215.11 618.84,216.44 619.58,217.75 620.33,219.04 621.07,220.30 621.81,221.53 622.55,222.74 623.30,223.93 624.04,225.09 624.78,226.23 625.52,227.34 626.26,228.43 627.01,229.49 627.75,230.53 628.49,231.55 629.23,232.54 629.97,233.51 630.72,234.45 631.46,235.37 632.20,236.26 632.94,237.14 633.69,237.99 634.43,238.81 635.17,239.62 635.91,240.40 636.65,241.16 637.40,241.90 638.14,242.61 638.88,243.31 639.62,243.98 640.37,244.64 641.11,245.27 641.85,245.89 642.59,246.48 643.33,247.06 644.08,247.62 644.82,248.16 645.56,248.68 646.30,249.19 647.04,249.68 647.79,250.15 648.53,250.60 649.27,251.04 650.01,251.47 650.76,251.87 651.50,252.27 652.24,252.65 652.98,253.01 653.72,253.36 654.47,253.70 655.21,254.03 655.95,254.34 656.69,254.64 657.43,254.93 658.18,255.21 658.92,255.48 659.66,255.73 660.40,255.98 661.15,256.22" fill="none" stroke="#f03535" stroke-width="1.0"/>
<polyline points="438.50,258.50 439.32,258.34 440.14,258.17 440.96,258.00 441.78,257.81 442.60,257.61 443.42,257.41 444.24,257.19 445.06,256.96 445.88,256.71 446.70,256.46 447.52,256.19 448.34,255.90 449.16,255.61 449.98,255.29 450.80,254.96 451.62,254.61 452.44,254.25 453.26,253.87 454.08,253.47 454.90,253.05 455.72,252.61 456.54,252.15 457.36,251.67 458.18,251.16 459.00,250.63 459.82,250.08 460.64,249.51 461.46,248.91 462.28,248.28 463.10,247.62 463.92,246.94 464.74,246.23 465.56,245.49 466.38,244.72 467.20,243.92 468.02,243.09 468.84,242.22 469.66,241.33 470.48,240.39 471.30,239.43 472.12,238.42 472.94,237.38 473.76,236.31 474.58,235.19 475.40,234.04 476.22,232.85 477.04,231.62 477.86,230.34 478.68,229.03 479.50,227.67 480.32,226.28 481.14,224.83 481.96,223.35 482.78,221.82 483.60,220.25 484.42,218.64 485.24,216.97 486.06,215.27 486.88,213.52 487.70,211.72 488.52,209.88 489.34,207.99 490.16,206.06 490.98,204.08 491.80,202.06 492.62,199.99 493.44,197.87 494.26,195.72 495.08,193.51 495.90,191.27 496.72,188.98 497.54,186.65 498.36,184.28 499.18,181.87 500.00,179.41 500.82,176.92 501.64,174.39 502.46,171.83 503.28,169.23 504.10,166.59 504.92,163.92 505.74,161.22 506.56,158.50 507.38,155.74 508.20,152.96 509.02,150.15 509.84,147.32 510.66,144.47 511.48,141.60 512.30,138.71 513.12,135.81 513.94,132.90 514.76,129.98 515.58,127.05 516.40,124.12 517.22,121.18 518.04,118.24 518.86,115.31 519.68,112.38 520.50,109.46 521.32,106.56 522.14,103.66 522.96,100.79 523.78,97.93 524.60,95.09 525.42,92.29 526.24,89.50 527.06,86.76 527.88,84.04 528.70,81.36 529.52,78.73 530.34,76.13 531.16,73.59 531.98,71.09 532.80,68.64 533.62,66.25 534.44,63.92 535.26,61.64 536.08,59.43 536.90,57.29 537.72,55.21 538.54,53.21 539.36,51.28 540.18,49.42 541.00,47.64 541.82,45.95 542.64,44.33 543.46,42.80 544.28,41.36 545.10,40.01 545.92,38.74 546.74,37.57 547.56,36.49 548.38,35.51 549.20,34.62 550.02,33.83 550.84,33.14 551.66,32.55 552.48,32.06 553.30,31.66 554.12,31.37 554.94,31.18 555.76,31.10 556.58,31.11 557.40,31.23 558.22,31.45 559.04,31.77 559.86,32.19 560.68,32.71 561.50,33.33 562.32,34.05 563.14,34.87 563.96,35.79 564.78,36.80 565.60,37.90 566.42,39.10 567.24,40.39 568.06,41.77 568.88,43.24 569.70,44.80 570.52,46.43 571.34,48.15 572.16,49.95 572.98,51.83 573.80,53.78 574.62,55.81 575.44,57.91 576.26,60.07 577.08,62.30 577.90,64.59 578.72,66.94 579.54,69.35 580.36,71.81 581.18,74.32 582.00,76.88 582.82,79.49 583.64,82.14 584.46,84.83 585.28,87.55 586.10,90.31 586.92,93.10 587.74,95.92 588.56,98.76 589.38,101.62 590.20,104.50 591.02,107.40 591.84,110.31 592.66,113.24 593.48,116.16 594.30,119.10 595.12,122.03 595.94,124.97 596.76,127.90 597.58,130.83 598.40,133.75 599.22,136.66 600.04,139.55 600.86,142.44 601.68,145.30 602.50,148.14 603.32,150.97 604.14,153.77 604.96,156.54 605.78,159.29 606.60,162.01 607.42,164.70 608.24,167.36 609.06,169.99 609.88,172.58 610.70,175.13 611.52,177.65 612.34,180.13 613.16,182.57 613.98,184.97 614.80,187.33 615.62,189.65 616.44,191.93 617.26,194.16 618.08,196.35 618.90,198.49 619.72,200.59 620.54,202.65 621.36,204.66 622.18,206.63 623.00,208.55 623.82,210.42 624.64,212.25 625.46,214.03 626.28,215.77 627.10,217.46 627.92,219.11 628.74,220.71 629.56,222.27 630.38,223.79 631.20,225.26 632.02,226.69 632.84,228.07 633.66,229.42 634.48,230.72 635.30,231.98 636.12,233.20 636.94,234.38 637.76,235.52 638.58,236.62 639.40,237.69 640.22,238.72 641.04,239.71 641.86,240.67 642.68,241.59 643.50,242.48 644.32,243.33 645.14,244.16 645.96,244.95 646.78,245.71 647.60,246.44 648.42,247.14 649.24,247.82 650.06,248.46 650.88,249.08 651.70,249.68 652.52,250.25 653.34,250.79 654.16,251.31 654.98,251.81 655.80,252.28 656.62,252.74 657.44,253.17 658.26,253.59 659.08,253.98 659.90,254.36 660.72,254.72 661.54,255.06 662.36,255.38 663.18,255.69 664.00,255.99 664.82,256.27 665.64,256.53 666.46,256.79 667.28,257.03 668.10,257.25 668.92,257.47 669.74,257.67 670.56,257.87 671.38,258.05 672.20,258.22 673.02,258.39 673.84,258.54 674.66,258.69 675.48,258.82 676.30,258.96 677.12,259.08 677.94,259.19 678.76,259.30 679.58,259.41 680.40,259.50 681.22,259.59 682.04,259.68 682.86,259.76 683.68,259.84 684.50,259.91" fill="none" stroke="#20e0f0" stroke-width="1.0" stroke-dasharray="26 3.5 2 3.5"/>
<polyline points="438.50,258.84 439.32,258.71 440.14,258.56 440.96,258.41 441.78,258.26 442.60,258.09 443.42,257.91 444.24,257.72 445.06,257.52 445.88,257.32 446.70,257.10 447.52,256.87 448.34,256.62 449.16,256.37 449.98,256.10 450.80,255.82 451.62,255.52 452.44,255.21 453.26,254.88 454.08,254.54 454.90,254.18 455.72,253.80 456.54,253.41 457.36,252.99 458.18,252.56 459.00,252.11 459.82,251.64 460.64,251.15 461.46,250.63 462.28,250.09 463.10,249.53 463.92,248.95 464.74,248.34 465.56,247.71 466.38,247.05 467.20,246.36 468.02,245.65 468.84,244.91 469.66,244.14 470.48,243.34 471.30,242.52 472.12,241.66 472.94,240.77 473.76,239.85 474.58,238.89 475.40,237.90 476.22,236.88 477.04,235.83 477.86,234.74 478.68,233.61 479.50,232.45 480.32,231.26 481.14,230.02 481.96,228.75 482.78,227.45 483.60,226.10 484.42,224.72 485.24,223.29 486.06,221.83 486.88,220.33 487.70,218.80 488.52,217.22 489.34,215.60 490.16,213.95 490.98,212.25 491.80,210.52 492.62,208.75 493.44,206.94 494.26,205.09 495.08,203.21 495.90,201.29 496.72,199.33 497.54,197.33 498.36,195.30 499.18,193.24 500.00,191.14 500.82,189.00 501.64,186.84 502.46,184.64 503.28,182.42 504.10,180.16 504.92,177.88 505.74,175.57 506.56,173.23 507.38,170.87 508.20,168.49 509.02,166.08 509.84,163.66 510.66,161.22 511.48,158.76 512.30,156.29 513.12,153.81 513.94,151.32 514.76,148.82 515.58,146.31 516.40,143.80 517.22,141.28 518.04,138.77 518.86,136.26 519.68,133.75 520.50,131.25 521.32,128.76 522.14,126.29 522.96,123.82 523.78,121.38 524.60,118.95 525.42,116.55 526.24,114.17 527.06,111.81 527.88,109.49 528.70,107.20 529.52,104.94 530.34,102.72 531.16,100.54 531.98,98.40 532.80,96.30 533.62,94.26 534.44,92.26 535.26,90.31 536.08,88.42 536.90,86.58 537.72,84.81 538.54,83.09 539.36,81.44 540.18,79.85 541.00,78.33 541.82,76.88 542.64,75.49 543.46,74.19 544.28,72.95 545.10,71.79 545.92,70.71 546.74,69.71 547.56,68.78 548.38,67.94 549.20,67.18 550.02,66.50 550.84,65.91 551.66,65.40 552.48,64.98 553.30,64.65 554.12,64.40 554.94,64.24 555.76,64.16 556.58,64.18 557.40,64.28 558.22,64.46 559.04,64.74 559.86,65.10 560.68,65.54 561.50,66.08 562.32,66.69 563.14,67.39 563.96,68.18 564.78,69.04 565.60,69.99 566.42,71.02 567.24,72.12 568.06,73.30 568.88,74.56 569.70,75.89 570.52,77.29 571.34,78.76 572.16,80.31 572.98,81.91 573.80,83.58 574.62,85.32 575.44,87.11 576.26,88.97 577.08,90.87 577.90,92.84 578.72,94.85 579.54,96.91 580.36,99.02 581.18,101.17 582.00,103.36 582.82,105.59 583.64,107.86 584.46,110.16 585.28,112.49 586.10,114.86 586.92,117.24 587.74,119.66 588.56,122.09 589.38,124.54 590.20,127.01 591.02,129.49 591.84,131.98 592.66,134.48 593.48,136.99 594.30,139.50 595.12,142.02 595.94,144.53 596.76,147.04 597.58,149.54 598.40,152.04 599.22,154.53 600.04,157.01 600.86,159.48 601.68,161.93 602.50,164.37 603.32,166.79 604.14,169.18 604.96,171.56 605.78,173.91 606.60,176.24 607.42,178.54 608.24,180.82 609.06,183.07 609.88,185.29 610.70,187.47 611.52,189.63 612.34,191.75 613.16,193.84 613.98,195.90 614.80,197.92 615.62,199.90 616.44,201.85 617.26,203.76 618.08,205.64 618.90,207.47 619.72,209.27 620.54,211.03 621.36,212.75 622.18,214.43 623.00,216.08 623.82,217.68 624.64,219.25 625.46,220.78 626.28,222.26 627.10,223.71 627.92,225.12 628.74,226.50 629.56,227.83 630.38,229.13 631.20,230.39 632.02,231.61 632.84,232.80 633.66,233.95 634.48,235.06 635.30,236.14 636.12,237.18 636.94,238.20 637.76,239.17 638.58,240.12 639.40,241.03 640.22,241.91 641.04,242.76 641.86,243.58 642.68,244.37 643.50,245.13 644.32,245.86 645.14,246.57 645.96,247.24 646.78,247.90 647.60,248.52 648.42,249.12 649.24,249.70 650.06,250.25 650.88,250.78 651.70,251.29 652.52,251.78 653.34,252.24 654.16,252.69 654.98,253.12 655.80,253.52 656.62,253.91 657.44,254.28 658.26,254.64 659.08,254.98 659.90,255.30 660.72,255.61 661.54,255.90 662.36,256.18 663.18,256.44 664.00,256.70 664.82,256.93 665.64,257.16 666.46,257.38 667.28,257.58 668.10,257.78 668.92,257.96 669.74,258.14 670.56,258.30 671.38,258.46 672.20,258.61 673.02,258.75 673.84,258.88 674.66,259.01 675.48,259.12 676.30,259.23 677.12,259.34 677.94,259.44 678.76,259.53 679.58,259.62 680.40,259.70 681.22,259.78 682.04,259.86 682.86,259.92 683.68,259.99 684.50,260.05" fill="none" stroke="#3030d0" stroke-width="1.0" stroke-dasharray="9.5 6"/>
<path d="M427.50 -0.55V274.70" stroke="#222" stroke-width="1.0" fill="none"/>
<path d="M684.50 -0.55V274.70" stroke="#222" stroke-width="1.0" fill="none"/>
<path d="M426.75 0.20H685.00" stroke="#999" stroke-width="1.2" fill="none"/>
<path d="M426.75 273.95H685.00" stroke="#888" stroke-width="1.6" fill="none"/>
<path d="M439.28 273.95v-5M439.28 0.20v5M458.74 273.95v-5M458.74 0.20v5M478.20 273.95v-10M478.20 0.20v10M497.66 273.95v-5M497.66 0.20v5M517.13 273.95v-5M517.13 0.20v5M536.59 273.95v-5M536.59 0.20v5M556.05 273.95v-10M556.05 0.20v10M575.51 273.95v-5M575.51 0.20v5M594.97 273.95v-5M594.97 0.20v5M614.44 273.95v-5M614.44 0.20v5M633.90 273.95v-10M633.90 0.20v10M653.36 273.95v-5M653.36 0.20v5M672.82 273.95v-5M672.82 0.20v5M427.50 260.90h10M684.50 260.90h-10M427.50 244.37h5M684.50 244.37h-5M427.50 227.83h5M684.50 227.83h-5M427.50 211.30h5M684.50 211.30h-5M427.50 194.77h5M684.50 194.77h-5M427.50 178.23h10M684.50 178.23h-10M427.50 161.70h5M684.50 161.70h-5M427.50 145.17h5M684.50 145.17h-5M427.50 128.64h5M684.50 128.64h-5M427.50 112.10h5M684.50 112.10h-5M427.50 95.57h10M684.50 95.57h-10M427.50 79.04h5M684.50 79.04h-5M427.50 62.50h5M684.50 62.50h-5M427.50 45.97h5M684.50 45.97h-5M427.50 29.44h5M684.50 29.44h-5M427.50 12.90h10M684.50 12.90h-10" fill="none" stroke="#3a3a3a" stroke-width="1.05"/>
<path d="M89.65 465.40V481.50M86.65 465.40h6.0M86.65 481.50h6.0" stroke="#707070" stroke-width="1.0" fill="none"/>
<path d="M94.65 467.00V479.00M91.65 467.00h6.0M91.65 479.00h6.0" stroke="#60ec60" stroke-width="1.0" fill="none"/>
<path d="M92.15 464.50V482.90M89.15 464.50h6.0M89.15 482.90h6.0" stroke="#d82020" stroke-width="1.0" fill="none"/>
<path d="M106.00 469.00V487.00M103.00 469.00h6.0M103.00 487.00h6.0" stroke="#707070" stroke-width="1.0" fill="none"/>
<path d="M111.00 473.00V485.50M108.00 473.00h6.0M108.00 485.50h6.0" stroke="#60ec60" stroke-width="1.0" fill="none"/>
<path d="M108.50 468.40V487.30M105.50 468.40h6.0M105.50 487.30h6.0" stroke="#d82020" stroke-width="1.0" fill="none"/>
<path d="M122.34 473.30V492.60M119.34 473.30h6.0M119.34 492.60h6.0" stroke="#707070" stroke-width="1.0" fill="none"/>
<path d="M127.34 477.00V499.60M124.34 477.00h6.0M124.34 499.60h6.0" stroke="#60ec60" stroke-width="1.0" fill="none"/>
<path d="M124.84 476.80V502.20M121.84 476.80h6.0M121.84 502.20h6.0" stroke="#d82020" stroke-width="1.0" fill="none"/>
<path d="M138.69 485.90V499.60M135.69 485.90h6.0M135.69 499.60h6.0" stroke="#707070" stroke-width="1.0" fill="none"/>
<path d="M143.69 489.00V515.70M140.69 489.00h6.0M140.69 515.70h6.0" stroke="#60ec60" stroke-width="1.0" fill="none"/>
<path d="M141.19 486.40V512.20M138.19 486.40h6.0M138.19 512.20h6.0" stroke="#d82020" stroke-width="1.0" fill="none"/>
<path d="M155.04 498.70V506.20M152.04 498.70h6.0M152.04 506.20h6.0" stroke="#707070" stroke-width="1.0" fill="none"/>
<path d="M160.04 491.70V521.50M157.04 491.70h6.0M157.04 521.50h6.0" stroke="#60ec60" stroke-width="1.0" fill="none"/>
<path d="M157.54 490.80V516.60M154.54 490.80h6.0M154.54 516.60h6.0" stroke="#d82020" stroke-width="1.0" fill="none"/>
<path d="M171.39 500.40V505.70M168.39 500.40h6.0M168.39 505.70h6.0" stroke="#707070" stroke-width="1.0" fill="none"/>
<path d="M176.39 494.70V511.80M173.39 494.70h6.0M173.39 511.80h6.0" stroke="#60ec60" stroke-width="1.0" fill="none"/>
<path d="M173.89 494.70V512.20M170.89 494.70h6.0M170.89 512.20h6.0" stroke="#d82020" stroke-width="1.0" fill="none"/>
<path d="M187.74 490.80V497.00M184.74 490.80h6.0M184.74 497.00h6.0" stroke="#707070" stroke-width="1.0" fill="none"/>
<path d="M192.74 480.00V492.60M189.74 480.00h6.0M189.74 492.60h6.0" stroke="#60ec60" stroke-width="1.0" fill="none"/>
<path d="M190.24 483.80V500.40M187.24 483.80h6.0M187.24 500.40h6.0" stroke="#d82020" stroke-width="1.0" fill="none"/>
<path d="M204.09 467.40V472.40M201.09 467.40h6.0M201.09 472.40h6.0" stroke="#707070" stroke-width="1.0" fill="none"/>
<path d="M209.09 465.70V480.60M206.09 465.70h6.0M206.09 480.60h6.0" stroke="#60ec60" stroke-width="1.0" fill="none"/>
<path d="M206.59 466.20V475.00M203.59 466.20h6.0M203.59 475.00h6.0" stroke="#d82020" stroke-width="1.0" fill="none"/>
<path d="M220.43 442.00V447.00M217.43 442.00h6.0M217.43 447.00h6.0" stroke="#707070" stroke-width="1.0" fill="none"/>
<path d="M225.43 433.30V450.80M222.43 433.30h6.0M222.43 450.80h6.0" stroke="#60ec60" stroke-width="1.0" fill="none"/>
<path d="M222.93 438.50V449.40M219.93 438.50h6.0M219.93 449.40h6.0" stroke="#d82020" stroke-width="1.0" fill="none"/>
<path d="M236.78 430.10V435.00M233.78 430.10h6.0M233.78 435.00h6.0" stroke="#707070" stroke-width="1.0" fill="none"/>
<path d="M241.78 411.40V430.70M238.78 411.40h6.0M238.78 430.70h6.0" stroke="#60ec60" stroke-width="1.0" fill="none"/>
<path d="M239.28 428.90V435.00M236.28 428.90h6.0M236.28 435.00h6.0" stroke="#d82020" stroke-width="1.0" fill="none"/>
<path d="M253.13 436.80V441.20M250.13 436.80h6.0M250.13 441.20h6.0" stroke="#707070" stroke-width="1.0" fill="none"/>
<path d="M258.13 421.90V436.80M255.13 421.90h6.0M255.13 436.80h6.0" stroke="#60ec60" stroke-width="1.0" fill="none"/>
<path d="M255.63 434.20V442.90M252.63 434.20h6.0M252.63 442.90h6.0" stroke="#d82020" stroke-width="1.0" fill="none"/>
<path d="M269.48 450.80V455.20M266.48 450.80h6.0M266.48 455.20h6.0" stroke="#707070" stroke-width="1.0" fill="none"/>
<path d="M274.48 449.00V461.30M271.48 449.00h6.0M271.48 461.30h6.0" stroke="#60ec60" stroke-width="1.0" fill="none"/>
<path d="M271.98 440.00V452.60M268.98 440.00h6.0M268.98 452.60h6.0" stroke="#d82020" stroke-width="1.0" fill="none"/>
<path d="M285.83 462.20V466.20M282.83 462.20h6.0M282.83 466.20h6.0" stroke="#707070" stroke-width="1.0" fill="none"/>
<path d="M290.83 457.80V464.80M287.83 457.80h6.0M287.83 464.80h6.0" stroke="#60ec60" stroke-width="1.0" fill="none"/>
<path d="M288.33 453.40V459.60M285.33 453.40h6.0M285.33 459.60h6.0" stroke="#d82020" stroke-width="1.0" fill="none"/>
<path d="M302.17 466.50V470.00M299.17 466.50h6.0M299.17 470.00h6.0" stroke="#707070" stroke-width="1.0" fill="none"/>
<path d="M307.17 461.50V465.50M304.17 461.50h6.0M304.17 465.50h6.0" stroke="#60ec60" stroke-width="1.0" fill="none"/>
<path d="M304.67 463.50V467.00M301.67 463.50h6.0M301.67 467.00h6.0" stroke="#d82020" stroke-width="1.0" fill="none"/>
<path d="M94.65 469.80L97.53 474.92L91.77 474.92Z" stroke="#50f050" stroke-width="1" fill="none"/>
<path d="M87.55 472.90l4.2 4.2M87.55 477.10l4.2 -4.2" stroke="#222" stroke-width="1" fill="none"/>
<circle cx="92.15" cy="472.90" r="2.8" fill="#ff1010"/>
<path d="M111.00 476.20L113.88 481.32L108.12 481.32Z" stroke="#50f050" stroke-width="1" fill="none"/>
<path d="M103.90 474.70l4.2 4.2M103.90 478.90l4.2 -4.2" stroke="#222" stroke-width="1" fill="none"/>
<circle cx="108.50" cy="478.00" r="2.8" fill="#ff1010"/>
<path d="M127.34 485.80L130.22 490.92L124.46 490.92Z" stroke="#50f050" stroke-width="1" fill="none"/>
<path d="M120.24 480.80l4.2 4.2M120.24 485.00l4.2 -4.2" stroke="#222" stroke-width="1" fill="none"/>
<circle cx="124.84" cy="489.40" r="2.8" fill="#ff1010"/>
<path d="M143.69 498.10L146.57 503.22L140.81 503.22Z" stroke="#50f050" stroke-width="1" fill="none"/>
<path d="M136.59 490.10l4.2 4.2M136.59 494.30l4.2 -4.2" stroke="#222" stroke-width="1" fill="none"/>
<circle cx="141.19" cy="499.60" r="2.8" fill="#ff1010"/>
<path d="M160.04 506.00L162.92 511.12L157.16 511.12Z" stroke="#50f050" stroke-width="1" fill="none"/>
<path d="M152.94 500.10l4.2 4.2M152.94 504.30l4.2 -4.2" stroke="#222" stroke-width="1" fill="none"/>
<circle cx="157.54" cy="503.40" r="2.8" fill="#ff1010"/>
<path d="M176.39 499.90L179.27 505.02L173.51 505.02Z" stroke="#50f050" stroke-width="1" fill="none"/>
<path d="M169.29 501.00l4.2 4.2M169.29 505.20l4.2 -4.2" stroke="#222" stroke-width="1" fill="none"/>
<circle cx="173.89" cy="503.10" r="2.8" fill="#ff1010"/>
<path d="M192.74 480.60L195.62 485.72L189.86 485.72Z" stroke="#50f050" stroke-width="1" fill="none"/>
<path d="M185.64 491.90l4.2 4.2M185.64 496.10l4.2 -4.2" stroke="#222" stroke-width="1" fill="none"/>
<circle cx="190.24" cy="492.20" r="2.8" fill="#ff1010"/>
<path d="M209.09 470.40L211.97 475.52L206.21 475.52Z" stroke="#50f050" stroke-width="1" fill="none"/>
<path d="M201.99 468.00l4.2 4.2M201.99 472.20l4.2 -4.2" stroke="#222" stroke-width="1" fill="none"/>
<circle cx="206.59" cy="470.40" r="2.8" fill="#ff1010"/>
<path d="M225.43 438.00L228.31 443.12L222.55 443.12Z" stroke="#50f050" stroke-width="1" fill="none"/>
<path d="M218.33 442.60l4.2 4.2M218.33 446.80l4.2 -4.2" stroke="#222" stroke-width="1" fill="none"/>
<circle cx="222.93" cy="443.40" r="2.8" fill="#ff1010"/>
<path d="M241.78 417.50L244.66 422.62L238.90 422.62Z" stroke="#50f050" stroke-width="1" fill="none"/>
<path d="M234.68 430.70l4.2 4.2M234.68 434.90l4.2 -4.2" stroke="#222" stroke-width="1" fill="none"/>
<circle cx="239.28" cy="431.50" r="2.8" fill="#ff1010"/>
<path d="M258.13 425.70L261.01 430.82L255.25 430.82Z" stroke="#50f050" stroke-width="1" fill="none"/>
<path d="M251.03 437.30l4.2 4.2M251.03 441.50l4.2 -4.2" stroke="#222" stroke-width="1" fill="none"/>
<circle cx="255.63" cy="438.00" r="2.8" fill="#ff1010"/>
<path d="M274.48 452.50L277.36 457.62L271.60 457.62Z" stroke="#50f050" stroke-width="1" fill="none"/>
<path d="M267.38 451.00l4.2 4.2M267.38 455.20l4.2 -4.2" stroke="#222" stroke-width="1" fill="none"/>
<circle cx="271.98" cy="445.90" r="2.8" fill="#ff1010"/>
<path d="M290.83 458.10L293.71 463.22L287.95 463.22Z" stroke="#50f050" stroke-width="1" fill="none"/>
<path d="M283.73 462.40l4.2 4.2M283.73 466.60l4.2 -4.2" stroke="#222" stroke-width="1" fill="none"/>
<circle cx="288.33" cy="456.60" r="2.8" fill="#ff1010"/>
<path d="M307.17 460.20L310.05 465.32L304.29 465.32Z" stroke="#50f050" stroke-width="1" fill="none"/>
<path d="M300.07 466.20l4.2 4.2M300.07 470.40l4.2 -4.2" stroke="#222" stroke-width="1" fill="none"/>
<circle cx="304.67" cy="465.20" r="2.8" fill="#ff1010"/>
<polyline points="86.70,474.24 87.44,474.35 88.18,474.46 88.93,474.57 89.67,474.69 90.41,474.81 91.15,474.94 91.89,475.08 92.64,475.22 93.38,475.36 94.12,475.51 94.86,475.67 95.60,475.84 96.35,476.01 97.09,476.19 97.83,476.37 98.57,476.56 99.32,476.76 100.06,476.97 100.80,477.18 101.54,477.40 102.28,477.63 103.03,477.87 103.77,478.12 104.51,478.37 105.25,478.63 105.99,478.90 106.74,479.18 107.48,479.47 108.22,479.77 108.96,480.07 109.71,480.39 110.45,480.71 111.19,481.05 111.93,481.39 112.67,481.75 113.42,482.11 114.16,482.48 114.90,482.86 115.64,483.25 116.39,483.65 117.13,484.06 117.87,484.48 118.61,484.91 119.35,485.35 120.10,485.80 120.84,486.26 121.58,486.73 122.32,487.20 123.06,487.69 123.81,488.18 124.55,488.68 125.29,489.19 126.03,489.71 126.78,490.24 127.52,490.77 128.26,491.31 129.00,491.86 129.74,492.42 130.49,492.98 131.23,493.54 131.97,494.12 132.71,494.69 133.45,495.28 134.20,495.86 134.94,496.45 135.68,497.04 136.42,497.64 137.17,498.24 137.91,498.84 138.65,499.44 139.39,500.04 140.13,500.63 140.88,501.23 141.62,501.83 142.36,502.42 143.10,503.01 143.84,503.60 144.59,504.18 145.33,504.75 146.07,505.32 146.81,505.88 147.56,506.44 148.30,506.98 149.04,507.51 149.78,508.04 150.52,508.55 151.27,509.05 152.01,509.53 152.75,510.00 153.49,510.46 154.23,510.90 154.98,511.32 155.72,511.73 156.46,512.11 157.20,512.48 157.95,512.82 158.69,513.15 159.43,513.45 160.17,513.72 160.91,513.98 161.66,514.21 162.40,514.41 163.14,514.59 163.88,514.74 164.63,514.86 165.37,514.95 166.11,515.01 166.85,515.04 167.59,515.05 168.34,515.02 169.08,514.96 169.82,514.86 170.56,514.74 171.30,514.58 172.05,514.38 172.79,514.15 173.53,513.89 174.27,513.60 175.02,513.26 175.76,512.90 176.50,512.49 177.24,512.06 177.98,511.58 178.73,511.08 179.47,510.53 180.21,509.95 180.95,509.34 181.69,508.69 182.44,508.01 183.18,507.29 183.92,506.54 184.66,505.76 185.41,504.94 186.15,504.09 186.89,503.21 187.63,502.30 188.37,501.36 189.12,500.39 189.86,499.39 190.60,498.36 191.34,497.31 192.08,496.23 192.83,495.12 193.57,493.99 194.31,492.84 195.05,491.67 195.80,490.47 196.54,489.26 197.28,488.03 198.02,486.78 198.76,485.51 199.51,484.24 200.25,482.94 200.99,481.64 201.73,480.33 202.48,479.01 203.22,477.68 203.96,476.34 204.70,475.00 205.44,473.66 206.19,472.32 206.93,470.98 207.67,469.63 208.41,468.29 209.15,466.96 209.90,465.63 210.64,464.31 211.38,462.99 212.12,461.69 212.87,460.40 213.61,459.12 214.35,457.86 215.09,456.61 215.83,455.38 216.58,454.16 217.32,452.97 218.06,451.79 218.80,450.64 219.54,449.51 220.29,448.40 221.03,447.32 221.77,446.27 222.51,445.24 223.26,444.24 224.00,443.27 224.74,442.32 225.48,441.41 226.22,440.53 226.97,439.68 227.71,438.86 228.45,438.08 229.19,437.33 229.93,436.61 230.68,435.93 231.42,435.28 232.16,434.66 232.90,434.08 233.65,433.54 234.39,433.03 235.13,432.56 235.87,432.12 236.61,431.71 237.36,431.35 238.10,431.01 238.84,430.72 239.58,430.45 240.32,430.22 241.07,430.03 241.81,429.87 242.55,429.74 243.29,429.65 244.04,429.58 244.78,429.55 245.52,429.55 246.26,429.59 247.00,429.65 247.75,429.74 248.49,429.86 249.23,430.01 249.97,430.18 250.72,430.39 251.46,430.62 252.20,430.87 252.94,431.15 253.68,431.45 254.43,431.77 255.17,432.11 255.91,432.48 256.65,432.86 257.39,433.27 258.14,433.69 258.88,434.13 259.62,434.58 260.36,435.05 261.11,435.54 261.85,436.04 262.59,436.55 263.33,437.07 264.07,437.61 264.82,438.15 265.56,438.70 266.30,439.26 267.04,439.83 267.78,440.41 268.53,440.99 269.27,441.57 270.01,442.16 270.75,442.75 271.50,443.35 272.24,443.95 272.98,444.55 273.72,445.15 274.46,445.75 275.21,446.35 275.95,446.94 276.69,447.54 277.43,448.13 278.17,448.72 278.92,449.31 279.66,449.89 280.40,450.47 281.14,451.04 281.89,451.61 282.63,452.17 283.37,452.72 284.11,453.27 284.85,453.81 285.60,454.35 286.34,454.87 287.08,455.39 287.82,455.90 288.57,456.41 289.31,456.90 290.05,457.38 290.79,457.86 291.53,458.33 292.28,458.79 293.02,459.23 293.76,459.67 294.50,460.10 295.24,460.52 295.99,460.93 296.73,461.34 297.47,461.73 298.21,462.11 298.96,462.48 299.70,462.84 300.44,463.20 301.18,463.54 301.92,463.88 302.67,464.20 303.41,464.52 304.15,464.82 304.89,465.12 305.63,465.41 306.38,465.69 307.12,465.96 307.86,466.22 308.60,466.48 309.35,466.72" fill="none" stroke="#f03535" stroke-width="1.0"/>
<polyline points="86.70,475.74 87.52,475.94 88.34,476.16 89.16,476.38 89.98,476.61 90.80,476.86 91.62,477.12 92.44,477.39 93.26,477.67 94.08,477.96 94.90,478.27 95.72,478.59 96.54,478.93 97.36,479.27 98.18,479.64 99.00,480.02 99.82,480.41 100.64,480.82 101.46,481.25 102.28,481.69 103.10,482.15 103.92,482.63 104.74,483.12 105.56,483.63 106.38,484.16 107.20,484.71 108.02,485.28 108.84,485.87 109.66,486.47 110.48,487.10 111.30,487.78 112.12,488.51 112.94,489.26 113.76,490.04 114.58,490.85 115.40,491.68 116.22,492.54 117.04,493.42 117.86,494.33 118.68,495.27 119.50,496.24 120.32,497.23 121.14,498.24 121.96,499.29 122.78,500.35 123.60,501.45 124.42,502.57 125.24,503.72 126.06,504.89 126.88,506.08 127.70,507.30 128.52,508.54 129.34,509.80 130.16,511.09 130.98,512.31 131.80,513.54 132.62,514.78 133.44,516.03 134.26,517.30 135.08,518.57 135.90,519.85 136.72,521.13 137.54,522.42 138.36,523.72 139.18,525.01 140.00,526.31 140.82,527.60 141.64,528.89 142.46,530.18 143.28,531.46 144.10,532.72 144.92,533.98 145.74,535.22 146.56,536.44 147.38,537.65 148.20,538.83 149.02,539.99 149.84,541.13 150.66,542.24 151.48,543.31 152.30,544.36 153.12,545.37 153.94,546.41 154.76,547.54 155.58,548.63 156.40,549.68 157.22,550.68 158.04,551.64 158.86,552.54 159.68,553.39 160.50,554.19 161.32,554.92 162.14,555.60 162.96,556.20 163.78,556.74 164.60,557.21 165.42,557.61 166.24,557.93 167.06,558.17 167.88,558.33 168.70,558.41 169.52,558.26 170.34,557.81 171.16,557.27 171.98,556.64 172.80,555.93 173.62,555.13 174.44,554.24 175.26,553.26 176.08,552.20 176.90,551.05 177.72,549.81 178.54,548.48 179.36,547.07 180.18,545.57 181.00,543.99 181.82,542.32 182.64,540.57 183.46,538.74 184.28,536.82 185.10,534.83 185.92,532.77 186.74,530.62 187.56,528.41 188.38,526.12 189.20,523.77 190.02,521.36 190.84,518.88 191.66,516.34 192.48,513.74 193.30,511.09 194.12,508.39 194.94,505.65 195.76,502.86 196.58,500.03 197.40,497.16 198.22,494.26 199.04,491.33 199.86,488.38 200.68,485.40 201.50,482.41 202.32,479.41 203.14,476.39 203.96,473.37 204.78,470.35 205.60,467.33 206.42,464.32 207.24,461.32 208.06,458.33 208.88,455.36 209.70,452.41 210.52,449.49 211.34,446.60 212.16,443.75 212.98,440.93 213.80,438.15 214.62,435.42 215.44,432.73 216.26,430.10 217.08,427.52 217.90,425.00 218.72,422.53 219.54,420.14 220.36,417.80 221.18,415.54 222.00,413.35 222.82,411.23 223.64,409.18 224.46,407.21 225.28,405.32 226.10,403.51 226.92,401.79 227.74,400.14 228.56,398.58 229.38,397.11 230.20,395.72 231.02,394.42 231.84,393.21 232.66,392.08 233.48,391.04 234.30,390.09 235.12,389.23 235.94,388.46 236.76,387.77 237.58,387.17 238.40,386.65 239.22,386.22 240.04,385.87 240.86,385.61 241.68,385.42 242.50,385.32 243.32,385.29 244.14,385.35 244.96,385.47 245.78,385.67 246.60,385.94 247.42,386.29 248.24,386.70 249.06,387.17 249.88,387.71 250.70,388.31 251.52,388.97 252.34,389.68 253.16,390.45 253.98,391.27 254.80,392.14 255.62,393.05 256.44,394.01 257.26,395.01 258.08,396.05 258.90,397.13 259.72,398.24 260.54,399.39 261.36,400.56 262.18,401.76 263.00,402.99 263.82,404.23 264.64,405.50 265.46,406.79 266.28,408.09 267.10,409.40 267.92,410.72 268.74,412.06 269.56,413.40 270.38,414.74 271.20,416.09 272.02,417.44 272.84,418.78 273.66,420.13 274.48,421.47 275.30,422.81 276.12,424.13 276.94,425.45 277.76,426.76 278.58,428.06 279.40,429.35 280.22,430.62 281.04,431.87 281.86,433.11 282.68,434.34 283.50,435.54 284.32,436.73 285.14,437.90 285.96,439.04 286.78,440.17 287.60,441.28 288.42,442.36 289.24,443.42 290.06,444.46 290.88,445.47 291.70,446.47 292.52,447.43 293.34,448.38 294.16,449.30 294.98,450.20 295.80,451.07 296.62,451.92 297.44,452.75 298.26,453.55 299.08,454.33 299.90,455.08 300.72,455.82 301.54,456.53 302.36,457.21 303.18,457.88 304.00,458.52 304.82,459.14 305.64,459.74 306.46,460.31 307.28,460.87 308.10,461.41 308.92,461.92 309.74,462.42 310.56,462.90 311.38,463.36 312.20,463.80 313.02,464.22 313.84,464.63 314.66,465.02 315.48,465.39 316.30,465.75 317.12,466.09 317.94,466.42 318.76,466.73 319.58,467.03 320.40,467.31 321.22,467.58 322.04,467.84 322.86,468.09 323.68,468.33 324.50,468.55 325.32,468.76 326.14,468.97 326.96,469.16 327.78,469.34 328.60,469.51 329.42,469.68 330.24,469.84 331.06,469.98 331.88,470.12 332.70,470.26" fill="none" stroke="#20e0f0" stroke-width="1.0" stroke-dasharray="26 3.5 2 3.5"/>
<polyline points="86.70,475.76 87.52,475.96 88.34,476.17 89.16,476.39 89.98,476.62 90.80,476.86 91.62,477.11 92.44,477.38 93.26,477.65 94.08,477.94 94.90,478.24 95.72,478.56 96.54,478.88 97.36,479.22 98.18,479.58 99.00,479.95 99.82,480.33 100.64,480.73 101.46,481.14 102.28,481.57 103.10,482.02 103.92,482.48 104.74,482.96 105.56,483.45 106.38,483.96 107.20,484.49 108.02,485.04 108.84,485.60 109.66,486.18 110.48,486.78 111.30,487.40 112.12,488.04 112.94,488.69 113.76,489.36 114.58,490.05 115.40,490.76 116.22,491.49 117.04,492.23 117.86,492.99 118.68,493.77 119.50,494.57 120.32,495.38 121.14,496.22 121.96,497.06 122.78,497.93 123.60,498.81 124.42,499.70 125.24,500.61 126.06,501.54 126.88,502.47 127.70,503.42 128.52,504.39 129.34,505.36 130.16,506.34 130.98,507.33 131.80,508.34 132.62,509.34 133.44,510.36 134.26,511.38 135.08,512.40 135.90,513.43 136.72,514.46 137.54,515.49 138.36,516.52 139.18,517.54 140.00,518.56 140.82,519.58 141.64,520.59 142.46,521.59 143.28,522.57 144.10,523.55 144.92,524.51 145.74,525.46 146.56,526.39 147.38,527.30 148.20,528.19 149.02,529.05 149.84,529.90 150.66,530.71 151.48,531.50 152.30,532.25 153.12,532.97 153.94,533.66 154.76,534.31 155.58,534.93 156.40,535.50 157.22,536.04 158.04,536.52 158.86,536.97 159.68,537.36 160.50,537.71 161.32,538.01 162.14,538.26 162.96,538.45 163.78,538.58 164.60,538.66 165.42,538.69 166.24,538.65 167.06,538.55 167.88,538.40 168.70,538.18 169.52,537.89 170.34,537.54 171.16,537.13 171.98,536.65 172.80,536.11 173.62,535.50 174.44,534.82 175.26,534.08 176.08,533.26 176.90,532.39 177.72,531.44 178.54,530.43 179.36,529.35 180.18,528.21 181.00,527.00 181.82,525.73 182.64,524.39 183.46,522.99 184.28,521.53 185.10,520.01 185.92,518.44 186.74,516.80 187.56,515.11 188.38,513.37 189.20,511.57 190.02,509.73 190.84,507.84 191.66,505.90 192.48,503.92 193.30,501.90 194.12,499.84 194.94,497.74 195.76,495.61 196.58,493.46 197.40,491.27 198.22,489.06 199.04,486.82 199.86,484.57 200.68,482.30 201.50,480.02 202.32,477.72 203.14,475.42 203.96,473.12 204.78,470.81 205.60,468.51 206.42,466.21 207.24,463.92 208.06,461.64 208.88,459.37 209.70,457.13 210.52,454.90 211.34,452.69 212.16,450.51 212.98,448.36 213.80,446.24 214.62,444.16 215.44,442.11 216.26,440.10 217.08,438.13 217.90,436.21 218.72,434.33 219.54,432.50 220.36,430.72 221.18,428.99 222.00,427.32 222.82,425.70 223.64,424.14 224.46,422.64 225.28,421.20 226.10,419.82 226.92,418.50 227.74,417.24 228.56,416.05 229.38,414.93 230.20,413.87 231.02,412.88 231.84,411.95 232.66,411.09 233.48,410.30 234.30,409.58 235.12,408.92 235.94,408.33 236.76,407.80 237.58,407.34 238.40,406.95 239.22,406.62 240.04,406.35 240.86,406.15 241.68,406.01 242.50,405.93 243.32,405.91 244.14,405.95 244.96,406.05 245.78,406.20 246.60,406.41 247.42,406.67 248.24,406.98 249.06,407.35 249.88,407.76 250.70,408.21 251.52,408.72 252.34,409.26 253.16,409.85 253.98,410.47 254.80,411.13 255.62,411.83 256.44,412.57 257.26,413.33 258.08,414.12 258.90,414.95 259.72,415.80 260.54,416.67 261.36,417.56 262.18,418.48 263.00,419.41 263.82,420.37 264.64,421.33 265.46,422.31 266.28,423.30 267.10,424.31 267.92,425.32 268.74,426.33 269.56,427.36 270.38,428.38 271.20,429.41 272.02,430.44 272.84,431.47 273.66,432.49 274.48,433.52 275.30,434.54 276.12,435.55 276.94,436.56 277.76,437.56 278.58,438.55 279.40,439.53 280.22,440.50 281.04,441.45 281.86,442.40 282.68,443.33 283.50,444.25 284.32,445.16 285.14,446.05 285.96,446.93 286.78,447.79 287.60,448.63 288.42,449.45 289.24,450.26 290.06,451.06 290.88,451.83 291.70,452.59 292.52,453.33 293.34,454.05 294.16,454.75 294.98,455.44 295.80,456.10 296.62,456.75 297.44,457.38 298.26,457.99 299.08,458.59 299.90,459.16 300.72,459.72 301.54,460.26 302.36,460.79 303.18,461.29 304.00,461.78 304.82,462.26 305.64,462.71 306.46,463.15 307.28,463.58 308.10,463.99 308.92,464.38 309.74,464.76 310.56,465.13 311.38,465.48 312.20,465.81 313.02,466.14 313.84,466.45 314.66,466.74 315.48,467.03 316.30,467.30 317.12,467.56 317.94,467.81 318.76,468.05 319.58,468.28 320.40,468.49 321.22,468.70 322.04,468.90 322.86,469.09 323.68,469.27 324.50,469.44 325.32,469.60 326.14,469.76 326.96,469.90 327.78,470.04 328.60,470.17 329.42,470.30 330.24,470.42 331.06,470.53 331.88,470.64 332.70,470.74" fill="none" stroke="#3030d0" stroke-width="1.0" stroke-dasharray="9.5 6"/>
<path d="M75.95 335.15V610.35" stroke="#888" stroke-width="1.6" fill="none"/>
<path d="M332.50 335.15V610.35" stroke="#222" stroke-width="1.0" fill="none"/>
<path d="M75.20 335.90H333.00" stroke="#888" stroke-width="1.6" fill="none"/>
<path d="M75.20 609.60H333.00" stroke="#888" stroke-width="1.6" fill="none"/>
<path d="M87.48 609.60v-5M87.48 335.90v5M106.94 609.60v-5M106.94 335.90v5M126.40 609.60v-10M126.40 335.90v10M145.86 609.60v-5M145.86 335.90v5M165.33 609.60v-5M165.33 335.90v5M184.79 609.60v-5M184.79 335.90v5M204.25 609.60v-10M204.25 335.90v10M223.71 609.60v-5M223.71 335.90v5M243.17 609.60v-5M243.17 335.90v5M262.64 609.60v-5M262.64 335.90v5M282.10 609.60v-10M282.10 335.90v10M301.56 609.60v-5M301.56 335.90v5M321.02 609.60v-5M321.02 335.90v5M75.95 596.68h5M332.50 596.68h-5M75.95 575.95h10M332.50 575.95h-10M75.95 555.22h5M332.50 555.22h-5M75.95 534.49h5M332.50 534.49h-5M75.95 513.76h5M332.50 513.76h-5M75.95 493.03h5M332.50 493.03h-5M75.95 472.30h10M332.50 472.30h-10M75.95 451.57h5M332.50 451.57h-5M75.95 430.84h5M332.50 430.84h-5M75.95 410.11h5M332.50 410.11h-5M75.95 389.38h5M332.50 389.38h-5M75.95 368.65h10M332.50 368.65h-10M75.95 347.92h5M332.50 347.92h-5" fill="none" stroke="#3a3a3a" stroke-width="1.05"/>
<path d="M441.45 466.00V472.00M438.45 466.00h6.0M438.45 472.00h6.0" stroke="#707070" stroke-width="1.0" fill="none"/>
<path d="M446.45 466.30V474.20M443.45 466.30h6.0M443.45 474.20h6.0" stroke="#60ec60" stroke-width="1.0" fill="none"/>
<path d="M443.95 467.20V475.00M440.95 467.20h6.0M440.95 475.00h6.0" stroke="#d82020" stroke-width="1.0" fill="none"/>
<path d="M457.80 466.50V473.00M454.80 466.50h6.0M454.80 473.00h6.0" stroke="#707070" stroke-width="1.0" fill="none"/>
<path d="M462.80 463.60V475.00M459.80 463.60h6.0M459.80 475.00h6.0" stroke="#60ec60" stroke-width="1.0" fill="none"/>
<path d="M460.30 466.60V475.00M457.30 466.60h6.0M457.30 475.00h6.0" stroke="#d82020" stroke-width="1.0" fill="none"/>
<path d="M474.14 466.00V473.60M471.14 466.00h6.0M471.14 473.60h6.0" stroke="#707070" stroke-width="1.0" fill="none"/>
<path d="M479.14 464.50V476.80M476.14 464.50h6.0M476.14 476.80h6.0" stroke="#60ec60" stroke-width="1.0" fill="none"/>
<path d="M476.64 465.40V476.80M473.64 465.40h6.0M473.64 476.80h6.0" stroke="#d82020" stroke-width="1.0" fill="none"/>
<path d="M490.49 467.20V475.90M487.49 467.20h6.0M487.49 475.90h6.0" stroke="#707070" stroke-width="1.0" fill="none"/>
<path d="M495.49 466.30V482.90M492.49 466.30h6.0M492.49 482.90h6.0" stroke="#60ec60" stroke-width="1.0" fill="none"/>
<path d="M492.99 466.30V480.30M489.99 466.30h6.0M489.99 480.30h6.0" stroke="#d82020" stroke-width="1.0" fill="none"/>
<path d="M506.84 471.50V477.70M503.84 471.50h6.0M503.84 477.70h6.0" stroke="#707070" stroke-width="1.0" fill="none"/>
<path d="M511.84 470.70V490.80M508.84 470.70h6.0M508.84 490.80h6.0" stroke="#60ec60" stroke-width="1.0" fill="none"/>
<path d="M509.34 465.40V483.80M506.34 465.40h6.0M506.34 483.80h6.0" stroke="#d82020" stroke-width="1.0" fill="none"/>
<path d="M523.19 476.80V485.50M520.19 476.80h6.0M520.19 485.50h6.0" stroke="#707070" stroke-width="1.0" fill="none"/>
<path d="M528.19 470.20V491.70M525.19 470.20h6.0M525.19 491.70h6.0" stroke="#60ec60" stroke-width="1.0" fill="none"/>
<path d="M525.69 470.70V492.60M522.69 470.70h6.0M522.69 492.60h6.0" stroke="#d82020" stroke-width="1.0" fill="none"/>
<path d="M539.54 487.30V494.30M536.54 487.30h6.0M536.54 494.30h6.0" stroke="#707070" stroke-width="1.0" fill="none"/>
<path d="M544.54 467.10V496.90M541.54 467.10h6.0M541.54 496.90h6.0" stroke="#60ec60" stroke-width="1.0" fill="none"/>
<path d="M542.04 482.40V501.30M539.04 482.40h6.0M539.04 501.30h6.0" stroke="#d82020" stroke-width="1.0" fill="none"/>
<path d="M555.89 499.50V505.50M552.89 499.50h6.0M552.89 505.50h6.0" stroke="#707070" stroke-width="1.0" fill="none"/>
<path d="M560.89 497.80V520.00M557.89 497.80h6.0M557.89 520.00h6.0" stroke="#60ec60" stroke-width="1.0" fill="none"/>
<path d="M558.39 491.70V507.30M555.39 491.70h6.0M555.39 507.30h6.0" stroke="#d82020" stroke-width="1.0" fill="none"/>
<path d="M572.23 485.50V493.00M569.23 485.50h6.0M569.23 493.00h6.0" stroke="#707070" stroke-width="1.0" fill="none"/>
<path d="M577.23 498.80V514.90M574.23 498.80h6.0M574.23 514.90h6.0" stroke="#60ec60" stroke-width="1.0" fill="none"/>
<path d="M574.73 487.40V504.50M571.73 487.40h6.0M571.73 504.50h6.0" stroke="#d82020" stroke-width="1.0" fill="none"/>
<path d="M588.58 471.30V478.00M585.58 471.30h6.0M585.58 478.00h6.0" stroke="#707070" stroke-width="1.0" fill="none"/>
<path d="M593.58 459.50V488.70M590.58 459.50h6.0M590.58 488.70h6.0" stroke="#60ec60" stroke-width="1.0" fill="none"/>
<path d="M591.08 470.30V487.40M588.08 470.30h6.0M588.08 487.40h6.0" stroke="#d82020" stroke-width="1.0" fill="none"/>
<path d="M604.93 458.50V463.00M601.93 458.50h6.0M601.93 463.00h6.0" stroke="#707070" stroke-width="1.0" fill="none"/>
<path d="M609.93 438.00V464.60M606.93 438.00h6.0M606.93 464.60h6.0" stroke="#60ec60" stroke-width="1.0" fill="none"/>
<path d="M607.43 459.90V468.40M604.43 459.90h6.0M604.43 468.40h6.0" stroke="#d82020" stroke-width="1.0" fill="none"/>
<path d="M621.28 456.30V460.50M618.28 456.30h6.0M618.28 460.50h6.0" stroke="#707070" stroke-width="1.0" fill="none"/>
<path d="M626.28 455.10V470.30M623.28 455.10h6.0M623.28 470.30h6.0" stroke="#60ec60" stroke-width="1.0" fill="none"/>
<path d="M623.78 452.60V462.10M620.78 452.60h6.0M620.78 462.10h6.0" stroke="#d82020" stroke-width="1.0" fill="none"/>
<path d="M637.63 465.00V469.50M634.63 465.00h6.0M634.63 469.50h6.0" stroke="#707070" stroke-width="1.0" fill="none"/>
<path d="M642.63 465.00V475.50M639.63 465.00h6.0M639.63 475.50h6.0" stroke="#60ec60" stroke-width="1.0" fill="none"/>
<path d="M640.13 456.10V464.00M637.13 456.10h6.0M637.13 464.00h6.0" stroke="#d82020" stroke-width="1.0" fill="none"/>
<path d="M653.97 466.00V470.00M650.97 466.00h6.0M650.97 470.00h6.0" stroke="#707070" stroke-width="1.0" fill="none"/>
<path d="M658.97 462.00V468.00M655.97 462.00h6.0M655.97 468.00h6.0" stroke="#60ec60" stroke-width="1.0" fill="none"/>
<path d="M656.47 463.00V468.70M653.47 463.00h6.0M653.47 468.70h6.0" stroke="#d82020" stroke-width="1.0" fill="none"/>
<path d="M446.45 466.60L449.33 471.72L443.57 471.72Z" stroke="#50f050" stroke-width="1" fill="none"/>
<path d="M439.35 466.90l4.2 4.2M439.35 471.10l4.2 -4.2" stroke="#222" stroke-width="1" fill="none"/>
<circle cx="443.95" cy="470.70" r="2.8" fill="#ff1010"/>
<path d="M462.80 465.70L465.68 470.82L459.92 470.82Z" stroke="#50f050" stroke-width="1" fill="none"/>
<path d="M455.70 467.70l4.2 4.2M455.70 471.90l4.2 -4.2" stroke="#222" stroke-width="1" fill="none"/>
<circle cx="460.30" cy="470.70" r="2.8" fill="#ff1010"/>
<path d="M479.14 469.20L482.02 474.32L476.26 474.32Z" stroke="#50f050" stroke-width="1" fill="none"/>
<path d="M472.04 467.70l4.2 4.2M472.04 471.90l4.2 -4.2" stroke="#222" stroke-width="1" fill="none"/>
<circle cx="476.64" cy="471.20" r="2.8" fill="#ff1010"/>
<path d="M495.49 472.70L498.37 477.82L492.61 477.82Z" stroke="#50f050" stroke-width="1" fill="none"/>
<path d="M488.39 469.40l4.2 4.2M488.39 473.60l4.2 -4.2" stroke="#222" stroke-width="1" fill="none"/>
<circle cx="492.99" cy="472.40" r="2.8" fill="#ff1010"/>
<path d="M511.84 478.00L514.72 483.12L508.96 483.12Z" stroke="#50f050" stroke-width="1" fill="none"/>
<path d="M504.74 472.40l4.2 4.2M504.74 476.60l4.2 -4.2" stroke="#222" stroke-width="1" fill="none"/>
<circle cx="509.34" cy="475.00" r="2.8" fill="#ff1010"/>
<path d="M528.19 478.80L531.07 483.92L525.31 483.92Z" stroke="#50f050" stroke-width="1" fill="none"/>
<path d="M521.09 477.30l4.2 4.2M521.09 481.50l4.2 -4.2" stroke="#222" stroke-width="1" fill="none"/>
<circle cx="525.69" cy="481.70" r="2.8" fill="#ff1010"/>
<path d="M544.54 477.50L547.42 482.62L541.66 482.62Z" stroke="#50f050" stroke-width="1" fill="none"/>
<path d="M537.44 488.70l4.2 4.2M537.44 492.90l4.2 -4.2" stroke="#222" stroke-width="1" fill="none"/>
<circle cx="542.04" cy="491.70" r="2.8" fill="#ff1010"/>
<path d="M560.89 503.20L563.77 508.32L558.01 508.32Z" stroke="#50f050" stroke-width="1" fill="none"/>
<path d="M553.79 500.50l4.2 4.2M553.79 504.70l4.2 -4.2" stroke="#222" stroke-width="1" fill="none"/>
<circle cx="558.39" cy="499.30" r="2.8" fill="#ff1010"/>
<path d="M577.23 500.30L580.11 505.42L574.35 505.42Z" stroke="#50f050" stroke-width="1" fill="none"/>
<path d="M570.13 487.20l4.2 4.2M570.13 491.40l4.2 -4.2" stroke="#222" stroke-width="1" fill="none"/>
<circle cx="574.73" cy="495.90" r="2.8" fill="#ff1010"/>
<path d="M593.58 470.90L596.46 476.02L590.70 476.02Z" stroke="#50f050" stroke-width="1" fill="none"/>
<path d="M586.48 472.60l4.2 4.2M586.48 476.80l4.2 -4.2" stroke="#222" stroke-width="1" fill="none"/>
<circle cx="591.08" cy="478.80" r="2.8" fill="#ff1010"/>
<path d="M609.93 448.10L612.81 453.22L607.05 453.22Z" stroke="#50f050" stroke-width="1" fill="none"/>
<path d="M602.83 458.70l4.2 4.2M602.83 462.90l4.2 -4.2" stroke="#222" stroke-width="1" fill="none"/>
<circle cx="607.43" cy="464.20" r="2.8" fill="#ff1010"/>
<path d="M626.28 459.50L629.16 464.62L623.40 464.62Z" stroke="#50f050" stroke-width="1" fill="none"/>
<path d="M619.18 456.40l4.2 4.2M619.18 460.60l4.2 -4.2" stroke="#222" stroke-width="1" fill="none"/>
<circle cx="623.78" cy="457.40" r="2.8" fill="#ff1010"/>
<path d="M642.63 467.10L645.51 472.22L639.75 472.22Z" stroke="#50f050" stroke-width="1" fill="none"/>
<path d="M635.53 465.30l4.2 4.2M635.53 469.50l4.2 -4.2" stroke="#222" stroke-width="1" fill="none"/>
<circle cx="640.13" cy="460.40" r="2.8" fill="#ff1010"/>
<path d="M658.97 461.80L661.85 466.92L656.09 466.92Z" stroke="#50f050" stroke-width="1" fill="none"/>
<path d="M651.87 465.90l4.2 4.2M651.87 470.10l4.2 -4.2" stroke="#222" stroke-width="1" fill="none"/>
<circle cx="656.47" cy="465.90" r="2.8" fill="#ff1010"/>
<polyline points="438.50,467.26 439.24,467.16 439.98,467.05 440.73,466.95 441.47,466.85 442.21,466.75 442.95,466.64 443.69,466.54 444.44,466.43 445.18,466.33 445.92,466.22 446.66,466.10 447.40,465.99 448.15,465.88 448.89,465.76 449.63,465.65 450.37,465.54 451.12,465.43 451.86,465.32 452.60,465.21 453.34,465.10 454.08,465.00 454.83,464.90 455.57,464.80 456.31,464.71 457.05,464.62 457.79,464.54 458.54,464.46 459.28,464.38 460.02,464.30 460.76,464.22 461.51,464.14 462.25,464.05 462.99,463.97 463.73,463.89 464.47,463.81 465.22,463.73 465.96,463.65 466.70,463.58 467.44,463.51 468.19,463.45 468.93,463.39 469.67,463.34 470.41,463.30 471.15,463.26 471.90,463.23 472.64,463.21 473.38,463.20 474.12,463.20 474.86,463.21 475.61,463.23 476.35,463.26 477.09,463.30 477.83,463.34 478.58,463.39 479.32,463.44 480.06,463.51 480.80,463.58 481.54,463.65 482.29,463.74 483.03,463.83 483.77,463.93 484.51,464.03 485.25,464.15 486.00,464.27 486.74,464.41 487.48,464.55 488.22,464.70 488.97,464.86 489.71,465.03 490.45,465.21 491.19,465.40 491.93,465.60 492.68,465.81 493.42,466.03 494.16,466.27 494.90,466.52 495.64,466.79 496.39,467.07 497.13,467.37 497.87,467.67 498.61,467.99 499.36,468.31 500.10,468.65 500.84,468.99 501.58,469.34 502.32,469.69 503.07,470.06 503.81,470.42 504.55,470.79 505.29,471.16 506.03,471.53 506.78,471.91 507.52,472.28 508.26,472.65 509.00,473.02 509.75,473.39 510.49,473.75 511.23,474.11 511.97,474.47 512.71,474.83 513.46,475.18 514.20,475.54 514.94,475.90 515.68,476.27 516.43,476.64 517.17,477.01 517.91,477.40 518.65,477.79 519.39,478.18 520.14,478.59 520.88,479.01 521.62,479.44 522.36,479.89 523.10,480.35 523.85,480.82 524.59,481.31 525.33,481.82 526.07,482.35 526.82,482.91 527.56,483.51 528.30,484.13 529.04,484.78 529.78,485.44 530.53,486.13 531.27,486.83 532.01,487.54 532.75,488.26 533.49,488.98 534.24,489.70 534.98,490.42 535.72,491.13 536.46,491.82 537.21,492.51 537.95,493.18 538.69,493.82 539.43,494.44 540.17,495.03 540.92,495.59 541.66,496.12 542.40,496.63 543.14,497.14 543.88,497.65 544.63,498.16 545.37,498.66 546.11,499.15 546.85,499.64 547.60,500.10 548.34,500.55 549.08,500.98 549.82,501.39 550.56,501.77 551.31,502.13 552.05,502.45 552.79,502.73 553.53,502.98 554.28,503.19 555.02,503.36 555.76,503.48 556.50,503.55 557.24,503.58 557.99,503.55 558.73,503.49 559.47,503.39 560.21,503.26 560.95,503.10 561.70,502.90 562.44,502.67 563.18,502.41 563.92,502.13 564.67,501.82 565.41,501.48 566.15,501.12 566.89,500.74 567.63,500.34 568.38,499.91 569.12,499.47 569.86,499.01 570.60,498.53 571.34,498.04 572.09,497.54 572.83,497.02 573.57,496.49 574.31,495.96 575.06,495.40 575.80,494.80 576.54,494.17 577.28,493.51 578.02,492.82 578.77,492.11 579.51,491.37 580.25,490.61 580.99,489.83 581.73,489.04 582.48,488.24 583.22,487.42 583.96,486.60 584.70,485.78 585.45,484.95 586.19,484.12 586.93,483.30 587.67,482.48 588.41,481.67 589.16,480.87 589.90,480.09 590.64,479.32 591.38,478.57 592.12,477.81 592.87,477.02 593.61,476.23 594.35,475.42 595.09,474.60 595.84,473.78 596.58,472.96 597.32,472.14 598.06,471.32 598.80,470.51 599.55,469.71 600.29,468.92 601.03,468.15 601.77,467.40 602.52,466.68 603.26,465.98 604.00,465.31 604.74,464.68 605.48,464.08 606.23,463.52 606.97,463.00 607.71,462.53 608.45,462.10 609.19,461.70 609.94,461.34 610.68,461.01 611.42,460.71 612.16,460.45 612.91,460.20 613.65,459.99 614.39,459.79 615.13,459.62 615.87,459.47 616.62,459.33 617.36,459.22 618.10,459.11 618.84,459.02 619.58,458.94 620.33,458.87 621.07,458.80 621.81,458.74 622.55,458.68 623.30,458.62 624.04,458.57 624.78,458.54 625.52,458.51 626.26,458.50 627.01,458.50 627.75,458.52 628.49,458.54 629.23,458.58 629.97,458.63 630.72,458.69 631.46,458.76 632.20,458.84 632.94,458.93 633.69,459.03 634.43,459.14 635.17,459.25 635.91,459.38 636.65,459.51 637.40,459.65 638.14,459.79 638.88,459.95 639.62,460.11 640.37,460.27 641.11,460.45 641.85,460.66 642.59,460.88 643.33,461.11 644.08,461.36 644.82,461.63 645.56,461.90 646.30,462.18 647.04,462.47 647.79,462.77 648.53,463.07 649.27,463.37 650.01,463.67 650.76,463.97 651.50,464.26 652.24,464.55 652.98,464.84 653.72,465.11 654.47,465.37 655.21,465.62 655.95,465.86 656.69,466.09 657.43,466.31 658.18,466.53 658.92,466.75 659.66,466.96 660.40,467.17 661.15,467.38" fill="none" stroke="#f03535" stroke-width="1.0"/>
<polyline points="438.50,466.97 439.32,466.70 440.14,466.42 440.96,466.14 441.78,465.84 442.60,465.53 443.42,465.22 444.24,464.89 445.06,464.55 445.88,464.20 446.70,463.84 447.52,463.48 448.34,463.10 449.16,462.71 449.98,462.30 450.80,461.89 451.62,461.47 452.44,461.04 453.26,460.60 454.08,460.15 454.90,459.69 455.72,459.23 456.54,458.75 457.36,458.27 458.18,457.77 459.00,457.27 459.82,456.77 460.64,456.26 461.46,455.74 462.28,455.22 463.10,454.60 463.92,453.90 464.74,453.18 465.56,452.45 466.38,451.72 467.20,450.97 468.02,450.21 468.84,449.45 469.66,448.69 470.48,447.91 471.30,447.14 472.12,446.36 472.94,445.59 473.76,444.81 474.58,444.04 475.40,443.28 476.22,442.53 477.04,441.78 477.86,441.05 478.68,440.33 479.50,439.63 480.32,438.94 481.14,438.28 481.96,437.65 482.78,437.26 483.60,436.95 484.42,436.68 485.24,436.45 486.06,436.25 486.88,436.10 487.70,436.00 488.52,435.94 489.34,435.93 490.16,435.96 490.98,436.05 491.80,436.20 492.62,436.40 493.44,436.65 494.26,436.97 495.08,437.34 495.90,437.78 496.72,438.28 497.54,438.84 498.36,439.47 499.18,440.16 500.00,440.92 500.82,441.75 501.64,442.65 502.46,443.62 503.28,444.66 504.10,445.76 504.92,446.94 505.74,448.13 506.56,449.29 507.38,450.54 508.20,451.87 509.02,453.30 509.84,454.82 510.66,456.44 511.48,458.14 512.30,459.93 513.12,461.82 513.94,463.79 514.76,465.86 515.58,468.01 516.40,470.25 517.22,472.57 518.04,474.97 518.86,477.46 519.68,480.02 520.50,482.66 521.32,485.34 522.14,488.01 522.96,490.70 523.78,493.42 524.60,496.16 525.42,498.91 526.24,501.67 527.06,504.44 527.88,507.21 528.70,509.97 529.52,512.73 530.34,515.47 531.16,518.19 531.98,520.89 532.80,523.55 533.62,526.18 534.44,528.78 535.26,531.32 536.08,533.82 536.90,536.26 537.72,538.64 538.54,540.96 539.36,543.21 540.18,545.38 541.00,547.47 541.82,549.48 542.64,551.40 543.46,553.23 544.28,554.97 545.10,556.61 545.92,558.14 546.74,559.56 547.56,560.88 548.38,562.09 549.20,563.18 550.02,564.15 550.84,565.01 551.66,565.74 552.48,566.35 553.30,566.84 554.12,567.20 554.94,567.43 555.76,567.54 556.58,567.52 557.40,567.38 558.22,567.10 559.04,566.71 559.86,566.18 560.68,565.54 561.50,564.77 562.32,563.88 563.14,562.87 563.96,561.75 564.78,560.51 565.60,559.16 566.42,557.70 567.24,556.14 568.06,554.47 568.88,552.71 569.70,550.85 570.52,548.91 571.34,546.87 572.16,544.75 572.98,542.56 573.80,540.29 574.62,537.96 575.44,535.56 576.26,533.10 577.08,530.59 577.90,528.03 578.72,525.42 579.54,522.78 580.36,520.10 581.18,517.40 582.00,514.67 582.82,511.93 583.64,509.17 584.46,506.40 585.28,503.63 586.10,500.87 586.92,498.10 587.74,495.36 588.56,492.62 589.38,489.91 590.20,487.23 591.02,484.57 591.84,481.95 592.66,479.36 593.48,476.82 594.30,474.32 595.12,471.87 595.94,469.47 596.76,467.13 597.58,464.84 598.40,462.62 599.22,460.45 600.04,458.36 600.86,456.33 601.68,454.37 602.50,452.48 603.32,450.67 604.14,448.93 604.96,447.26 605.78,445.67 606.60,444.16 607.42,442.73 608.24,441.37 609.06,440.10 609.88,438.90 610.70,437.78 611.52,436.73 612.34,435.77 613.16,434.88 613.98,434.07 614.80,433.33 615.62,432.67 616.44,432.08 617.26,431.56 618.08,431.11 618.90,430.73 619.72,430.42 620.54,430.17 621.36,429.99 622.18,429.87 623.00,429.80 623.82,429.80 624.64,429.85 625.46,429.96 626.28,430.11 627.10,430.32 627.92,430.57 628.74,430.87 629.56,431.21 630.38,431.59 631.20,432.01 632.02,432.46 632.84,432.95 633.66,433.47 634.48,434.02 635.30,434.60 636.12,435.20 636.94,435.82 637.76,436.47 638.58,437.13 639.40,437.81 640.22,438.51 641.04,439.21 641.86,439.93 642.68,440.66 643.50,441.40 644.32,442.14 645.14,442.89 645.96,443.64 646.78,444.39 647.60,445.14 648.42,445.89 649.24,446.64 650.06,447.39 650.88,448.13 651.70,448.86 652.52,449.59 653.34,450.31 654.16,451.02 654.98,451.73 655.80,452.42 656.62,453.10 657.44,453.77 658.26,454.43 659.08,455.08 659.90,455.71 660.72,456.33 661.54,456.94 662.36,457.53 663.18,458.11 664.00,458.68 664.82,459.23 665.64,459.77 666.46,460.29 667.28,460.79 668.10,461.29 668.92,461.76 669.74,462.23 670.56,462.67 671.38,463.11 672.20,463.53 673.02,463.93 673.84,464.32 674.66,464.70 675.48,465.06 676.30,465.41 677.12,465.75 677.94,466.07 678.76,466.38 679.58,466.68 680.40,466.97 681.22,467.24 682.04,467.51 682.86,467.76 683.68,468.00 684.50,468.23" fill="none" stroke="#20e0f0" stroke-width="1.0" stroke-dasharray="26 3.5 2 3.5"/>
<polyline points="438.50,467.02 439.32,466.76 440.14,466.49 440.96,466.22 441.78,465.93 442.60,465.63 443.42,465.33 444.24,465.02 445.06,464.69 445.88,464.36 446.70,464.01 447.52,463.66 448.34,463.30 449.16,462.93 449.98,462.55 450.80,462.16 451.62,461.76 452.44,461.35 453.26,460.93 454.08,460.51 454.90,460.08 455.72,459.63 456.54,459.19 457.36,458.73 458.18,458.27 459.00,457.81 459.82,457.33 460.64,456.86 461.46,456.38 462.28,455.89 463.10,455.40 463.92,454.91 464.74,454.42 465.56,453.93 466.38,453.44 467.20,452.95 468.02,452.46 468.84,451.98 469.66,451.50 470.48,451.03 471.30,450.56 472.12,450.10 472.94,449.65 473.76,449.21 474.58,448.78 475.40,448.36 476.22,447.96 477.04,447.57 477.86,447.20 478.68,446.85 479.50,446.51 480.32,446.20 481.14,445.91 481.96,445.64 482.78,445.40 483.60,445.19 484.42,445.00 485.24,444.84 486.06,444.72 486.88,444.63 487.70,444.57 488.52,444.55 489.34,444.56 490.16,444.61 490.98,444.70 491.80,444.83 492.62,445.01 493.44,445.22 494.26,445.48 495.08,445.79 495.90,446.14 496.72,446.54 497.54,446.99 498.36,447.48 499.18,448.03 500.00,448.62 500.82,449.27 501.64,449.96 502.46,450.71 503.28,451.51 504.10,452.36 504.92,453.26 505.74,454.21 506.56,455.21 507.38,456.26 508.20,457.36 509.02,458.51 509.84,459.71 510.66,460.96 511.48,462.25 512.30,463.59 513.12,464.97 513.94,466.40 514.76,467.86 515.58,469.36 516.40,470.91 517.22,472.48 518.04,474.09 518.86,475.73 519.68,477.40 520.50,479.10 521.32,480.82 522.14,482.56 522.96,484.32 523.78,486.09 524.60,487.88 525.42,489.67 526.24,491.48 527.06,493.29 527.88,495.09 528.70,496.90 529.52,498.70 530.34,500.49 531.16,502.26 531.98,504.03 532.80,505.77 533.62,507.49 534.44,509.18 535.26,510.84 536.08,512.47 536.90,514.07 537.72,515.62 538.54,517.13 539.36,518.60 540.18,520.02 541.00,521.39 541.82,522.70 542.64,523.95 543.46,525.15 544.28,526.28 545.10,527.35 545.92,528.35 546.74,529.28 547.56,530.14 548.38,530.93 549.20,531.64 550.02,532.28 550.84,532.84 551.66,533.31 552.48,533.71 553.30,534.03 554.12,534.27 554.94,534.42 555.76,534.49 556.58,534.48 557.40,534.38 558.22,534.21 559.04,533.95 559.86,533.61 560.68,533.18 561.50,532.68 562.32,532.10 563.14,531.44 563.96,530.71 564.78,529.90 565.60,529.02 566.42,528.07 567.24,527.05 568.06,525.96 568.88,524.81 569.70,523.59 570.52,522.32 571.34,520.99 572.16,519.61 572.98,518.18 573.80,516.70 574.62,515.17 575.44,513.61 576.26,512.00 577.08,510.36 577.90,508.69 578.72,506.99 579.54,505.26 580.36,503.51 581.18,501.75 582.00,499.97 582.82,498.17 583.64,496.37 584.46,494.57 585.28,492.76 586.10,490.95 586.92,489.15 587.74,487.36 588.56,485.57 589.38,483.80 590.20,482.05 591.02,480.31 591.84,478.60 592.66,476.91 593.48,475.25 594.30,473.62 595.12,472.02 595.94,470.45 596.76,468.92 597.58,467.43 598.40,465.98 599.22,464.57 600.04,463.20 600.86,461.87 601.68,460.59 602.50,459.36 603.32,458.17 604.14,457.04 604.96,455.95 605.78,454.91 606.60,453.93 607.42,452.99 608.24,452.10 609.06,451.27 609.88,450.49 610.70,449.76 611.52,449.08 612.34,448.44 613.16,447.86 613.98,447.33 614.80,446.85 615.62,446.42 616.44,446.03 617.26,445.70 618.08,445.40 618.90,445.16 619.72,444.95 620.54,444.79 621.36,444.67 622.18,444.59 623.00,444.55 623.82,444.55 624.64,444.58 625.46,444.65 626.28,444.75 627.10,444.89 627.92,445.05 628.74,445.25 629.56,445.47 630.38,445.72 631.20,445.99 632.02,446.29 632.84,446.61 633.66,446.95 634.48,447.30 635.30,447.68 636.12,448.07 636.94,448.48 637.76,448.90 638.58,449.33 639.40,449.78 640.22,450.23 641.04,450.69 641.86,451.16 642.68,451.64 643.50,452.12 644.32,452.61 645.14,453.09 645.96,453.58 646.78,454.08 647.60,454.57 648.42,455.06 649.24,455.55 650.06,456.03 650.88,456.52 651.70,457.00 652.52,457.47 653.34,457.94 654.16,458.41 654.98,458.87 655.80,459.32 656.62,459.76 657.44,460.20 658.26,460.63 659.08,461.05 659.90,461.47 660.72,461.87 661.54,462.27 662.36,462.66 663.18,463.04 664.00,463.41 664.82,463.77 665.64,464.12 666.46,464.46 667.28,464.79 668.10,465.11 668.92,465.42 669.74,465.72 670.56,466.01 671.38,466.30 672.20,466.57 673.02,466.84 673.84,467.09 674.66,467.34 675.48,467.57 676.30,467.80 677.12,468.02 677.94,468.23 678.76,468.44 679.58,468.63 680.40,468.82 681.22,469.00 682.04,469.17 682.86,469.34 683.68,469.49 684.50,469.64" fill="none" stroke="#3030d0" stroke-width="1.0" stroke-dasharray="9.5 6"/>
<path d="M427.50 335.15V610.35" stroke="#222" stroke-width="1.0" fill="none"/>
<path d="M684.50 335.15V610.35" stroke="#222" stroke-width="1.0" fill="none"/>
<path d="M426.75 335.90H685.00" stroke="#888" stroke-width="1.6" fill="none"/>
<path d="M426.75 609.60H685.00" stroke="#888" stroke-width="1.6" fill="none"/>
<path d="M439.28 609.60v-5M439.28 335.90v5M458.74 609.60v-5M458.74 335.90v5M478.20 609.60v-10M478.20 335.90v10M497.66 609.60v-5M497.66 335.90v5M517.13 609.60v-5M517.13 335.90v5M536.59 609.60v-5M536.59 335.90v5M556.05 609.60v-10M556.05 335.90v10M575.51 609.60v-5M575.51 335.90v5M594.97 609.60v-5M594.97 335.90v5M614.44 609.60v-5M614.44 335.90v5M633.90 609.60v-10M633.90 335.90v10M653.36 609.60v-5M653.36 335.90v5M672.82 609.60v-5M672.82 335.90v5M427.50 596.69h5M684.50 596.69h-5M427.50 578.92h5M684.50 578.92h-5M427.50 561.15h10M684.50 561.15h-10M427.50 543.38h5M684.50 543.38h-5M427.50 525.61h5M684.50 525.61h-5M427.50 507.84h5M684.50 507.84h-5M427.50 490.07h5M684.50 490.07h-5M427.50 472.30h10M684.50 472.30h-10M427.50 454.53h5M684.50 454.53h-5M427.50 436.76h5M684.50 436.76h-5M427.50 418.99h5M684.50 418.99h-5M427.50 401.22h5M684.50 401.22h-5M427.50 383.45h10M684.50 383.45h-10M427.50 365.68h5M684.50 365.68h-5M427.50 347.91h5M684.50 347.91h-5" fill="none" stroke="#3a3a3a" stroke-width="1.05"/>
<path d="M196.80 305.45H199.50" stroke="#333" stroke-width="1" fill="none"/>
<path d="M198.75 305.40L197.60 314.40" stroke="#333" stroke-width="1.45" fill="none" stroke-linecap="round"/>
<path d="M197.75 314.30C200.55 313.50 204.55 311.00 206.50 305.50" stroke="#333" stroke-width="1.1" fill="none" stroke-linecap="round"/>
<path d="M548.80 305.45H551.50" stroke="#333" stroke-width="1" fill="none"/>
<path d="M550.75 305.40L549.60 314.40" stroke="#333" stroke-width="1.45" fill="none" stroke-linecap="round"/>
<path d="M549.75 314.30C552.55 313.50 556.55 311.00 558.50 305.50" stroke="#333" stroke-width="1.1" fill="none" stroke-linecap="round"/>
<path d="M197.00 641.05H199.70" stroke="#333" stroke-width="1" fill="none"/>
<path d="M198.95 641.00L197.80 650.00" stroke="#333" stroke-width="1.45" fill="none" stroke-linecap="round"/>
<path d="M197.95 649.90C200.75 649.10 204.75 646.60 206.70 641.10" stroke="#333" stroke-width="1.1" fill="none" stroke-linecap="round"/>
<path d="M548.80 641.05H551.50" stroke="#333" stroke-width="1" fill="none"/>
<path d="M550.75 641.00L549.60 650.00" stroke="#333" stroke-width="1.45" fill="none" stroke-linecap="round"/>
<path d="M549.75 649.90C552.55 649.10 556.55 646.60 558.50 641.10" stroke="#333" stroke-width="1.1" fill="none" stroke-linecap="round"/>
<path d="M202.00 20.20l4.4 4.4M202.00 24.60l4.4 -4.4" stroke="#222" stroke-width="1" fill="none"/>
<circle cx="204.10" cy="44.45" r="2.8" fill="#ff1010"/>
<path d="M204.10 63.00L206.80 67.80L201.40 67.80Z" stroke="#50f050" stroke-width="1" fill="none"/>
<path d="M204.4 87.4H236.1" stroke="#f03535" stroke-width="1"/>
<path d="M204.1 109.8H237.5" stroke="#20e0f0" stroke-width="1" stroke-dasharray="24.4 6.8 2.2 10"/>
<path d="M204.1 131.8H230.4" stroke="#3030d0" stroke-width="1" stroke-dasharray="9.6 7.4"/>
<text transform="matrix(0.9455,0,0,1.0476,58.382,18.900)" font-size="16" fill="#444">1</text>
<text transform="matrix(1.1436,0,0,1.0419,42.928,68.140)" font-size="16" fill="#444" letter-spacing="0.350">0.8</text>
<text transform="matrix(1.1282,0,0,1.0233,42.936,117.644)" font-size="16" fill="#444" letter-spacing="0.270">0.6</text>
<text transform="matrix(1.1241,0,0,1.0233,42.938,167.344)" font-size="16" fill="#444" letter-spacing="0.240">0.4</text>
<text transform="matrix(1.1200,0,0,1.0233,42.840,217.344)" font-size="16" fill="#444" letter-spacing="0.700">0.2</text>
<text transform="matrix(1.1714,0,0,0.9953,57.214,266.951)" font-size="16" fill="#444">0</text>
<text transform="matrix(1.1562,0,0,1.0512,375.422,18.637)" font-size="16" fill="#444" letter-spacing="0.440">0.015</text>
<text transform="matrix(1.1345,0,0,1.0326,385.233,101.142)" font-size="16" fill="#444" letter-spacing="0.320">0.01</text>
<text transform="matrix(1.0827,0,0,0.9867,365.117,184.153)" font-size="16" fill="#444" letter-spacing="0.980">5&#215;10<tspan dy="-4" font-size="10.5">&#8722;3</tspan></text>
<text transform="matrix(1.1286,0,0,1.0047,409.636,266.549)" font-size="16" fill="#444">0</text>
<text transform="matrix(1.0437,0,0,0.9511,13.356,374.162)" font-size="16" fill="#444" letter-spacing="1.230">5&#215;10<tspan dy="-4" font-size="10.5">&#8722;4</tspan></text>
<text transform="matrix(1.1714,0,0,0.9860,57.214,477.553)" font-size="16" fill="#444">0</text>
<text transform="matrix(1.0170,0,0,0.9244,1.837,581.269)" font-size="16" fill="#444" letter-spacing="1.580">&#8722;5&#215;10<tspan dy="-4" font-size="10.5">&#8722;4</tspan></text>
<text transform="matrix(1.0660,0,0,0.9689,365.134,388.858)" font-size="16" fill="#444" letter-spacing="1.150">5&#215;10<tspan dy="-4" font-size="10.5">&#8722;5</tspan></text>
<text transform="matrix(1.1286,0,0,1.0047,409.636,477.849)" font-size="16" fill="#444">0</text>
<text transform="matrix(1.0453,0,0,0.9511,353.916,566.662)" font-size="16" fill="#444" letter-spacing="1.450">&#8722;5&#215;10<tspan dy="-4" font-size="10.5">&#8722;5</tspan></text>
<text transform="matrix(1.2918,0,0,0.9619,115.981,293.000)" font-size="16" fill="#444">&#8722;2</text>
<text transform="matrix(1.1143,0,0,0.9860,199.443,292.953)" font-size="16" fill="#444">0</text>
<text transform="matrix(1.2960,0,0,1.0000,276.828,293.100)" font-size="16" fill="#444">2</text>
<text transform="matrix(0.9882,0,0,0.9231,208.306,321.900)" font-size="14" fill="#333">f</text>
<text transform="matrix(1.2918,0,0,0.9619,467.981,293.000)" font-size="16" fill="#444">&#8722;2</text>
<text transform="matrix(1.1143,0,0,0.9860,551.443,292.953)" font-size="16" fill="#444">0</text>
<text transform="matrix(1.2960,0,0,1.0000,628.828,293.100)" font-size="16" fill="#444">2</text>
<text transform="matrix(0.9882,0,0,0.9231,560.306,321.900)" font-size="14" fill="#333">f</text>
<text transform="matrix(1.2918,0,0,0.9619,116.181,628.600)" font-size="16" fill="#444">&#8722;2</text>
<text transform="matrix(1.1143,0,0,0.9860,199.643,628.553)" font-size="16" fill="#444">0</text>
<text transform="matrix(1.2960,0,0,1.0000,277.028,628.700)" font-size="16" fill="#444">2</text>
<text transform="matrix(0.9882,0,0,0.9231,208.506,657.500)" font-size="14" fill="#333">f</text>
<text transform="matrix(1.2918,0,0,0.9619,467.981,628.600)" font-size="16" fill="#444">&#8722;2</text>
<text transform="matrix(1.1143,0,0,0.9860,551.443,628.553)" font-size="16" fill="#444">0</text>
<text transform="matrix(1.2960,0,0,1.0000,628.828,628.700)" font-size="16" fill="#444">2</text>
<text transform="matrix(0.9882,0,0,0.9231,560.306,657.500)" font-size="14" fill="#333">f</text>
<text transform="matrix(0,-1.1730,1.0651,0,357.374,212.066)" font-size="21" fill="#404040" letter-spacing="0.860"><tspan font-style="italic">V</tspan><tspan dy="5" font-size="13">1</tspan><tspan dy="-5"> [(Mpc/h)</tspan><tspan dy="-8" font-size="13">&#8722;1</tspan><tspan dy="8">]</tspan></text>
<text transform="matrix(0,-1.1565,1.0512,0,18.144,549.946)" font-size="21" fill="#404040" letter-spacing="0.960"><tspan font-style="italic">V</tspan><tspan dy="5" font-size="13">2</tspan><tspan dy="-5"> [(Mpc/h)</tspan><tspan dy="-8" font-size="13">&#8722;2</tspan><tspan dy="8">]</tspan></text>
<text transform="matrix(0,-1.1890,1.0791,0,357.605,546.486)" font-size="21" fill="#404040" letter-spacing="0.670"><tspan font-style="italic">V</tspan><tspan dy="5" font-size="13">3</tspan><tspan dy="-5"> [(Mpc/h)</tspan><tspan dy="-8" font-size="13">&#8722;3</tspan><tspan dy="8">]</tspan></text>
<text transform="matrix(0,-0.8370,1.0071,0,13.448,147.346)" font-size="21" fill="#404040" font-style="italic">V</text>
<text transform="matrix(0,-1.0364,1.1294,0,21.000,134.218)" font-size="13" fill="#404040">0</text>
<text transform="matrix(0.9501,0,0,1.0000,216.787,28.450)" font-size="15" fill="#333" letter-spacing="1.720">Obs,Sample</text>
<text transform="matrix(0.8000,0,0,1.0000,309.600,28.400)" font-size="15" fill="#333">C</text>
<text transform="matrix(0.9501,0,0,1.0000,216.787,50.250)" font-size="15" fill="#e02828" letter-spacing="1.720">Obs,Sample</text>
<text transform="matrix(0.8615,0,0,1.0154,309.069,50.200)" font-size="15" fill="#e02828">D</text>
<text transform="matrix(0.9501,0,0,1.0000,216.787,71.850)" font-size="15" fill="#38dc38" letter-spacing="1.720">Obs,Sample</text>
<text transform="matrix(0.9000,0,0,1.0051,309.550,71.800)" font-size="15" fill="#38dc38">E</text>
<text transform="matrix(0.9444,0,0,0.9920,243.128,93.068)" font-size="15" fill="#e02828" letter-spacing="0.770">Mock,LCDM</text>
<text transform="matrix(0.9412,0,0,0.9920,243.129,115.268)" font-size="15" fill="#28dce8" letter-spacing="1.020">Mock,SCDM</text>
<text transform="matrix(1.1113,0,0,1.0100,243.044,137.800)" font-size="15" fill="#2828d0" letter-spacing="1.110">Gaussian</text>
<text transform="matrix(1.1344,0,0,1.0311,97.316,164.342)" font-size="16" fill="#333" letter-spacing="1.030">Vol.limit</text>
<text transform="matrix(1.1623,0,0,1.0571,97.319,191.700)" font-size="16" fill="#333" letter-spacing="1.400">Region 1 &amp; 2</text>
<text transform="matrix(1.2737,0,0,1.0762,94.900,219.500)" font-size="16" fill="#333" font-style="italic">R</text>
<text transform="matrix(0.8800,0,0,1.0074,108.560,224.348)" font-size="10" fill="#333">G</text>
<text transform="matrix(1.3871,0,0,1.0512,116.160,219.637)" font-size="16" fill="#333">=5</text>
<text transform="matrix(1.3630,0,0,1.0273,146.419,219.400)" font-size="16" fill="#333" font-style="italic">h</text>
<text transform="matrix(1.2421,0,0,0.9538,160.279,214.800)" font-size="10" fill="#333">&#8722;1</text>
<text transform="matrix(1.1298,0,0,1.0286,174.135,219.400)" font-size="16" fill="#333" letter-spacing="0.100">Mpc</text>
<text transform="matrix(1.1608,0,0,1.0552,97.310,247.207)" font-size="16" fill="#333" letter-spacing="0.980">All galaxies</text>
</svg>
</body></html>
